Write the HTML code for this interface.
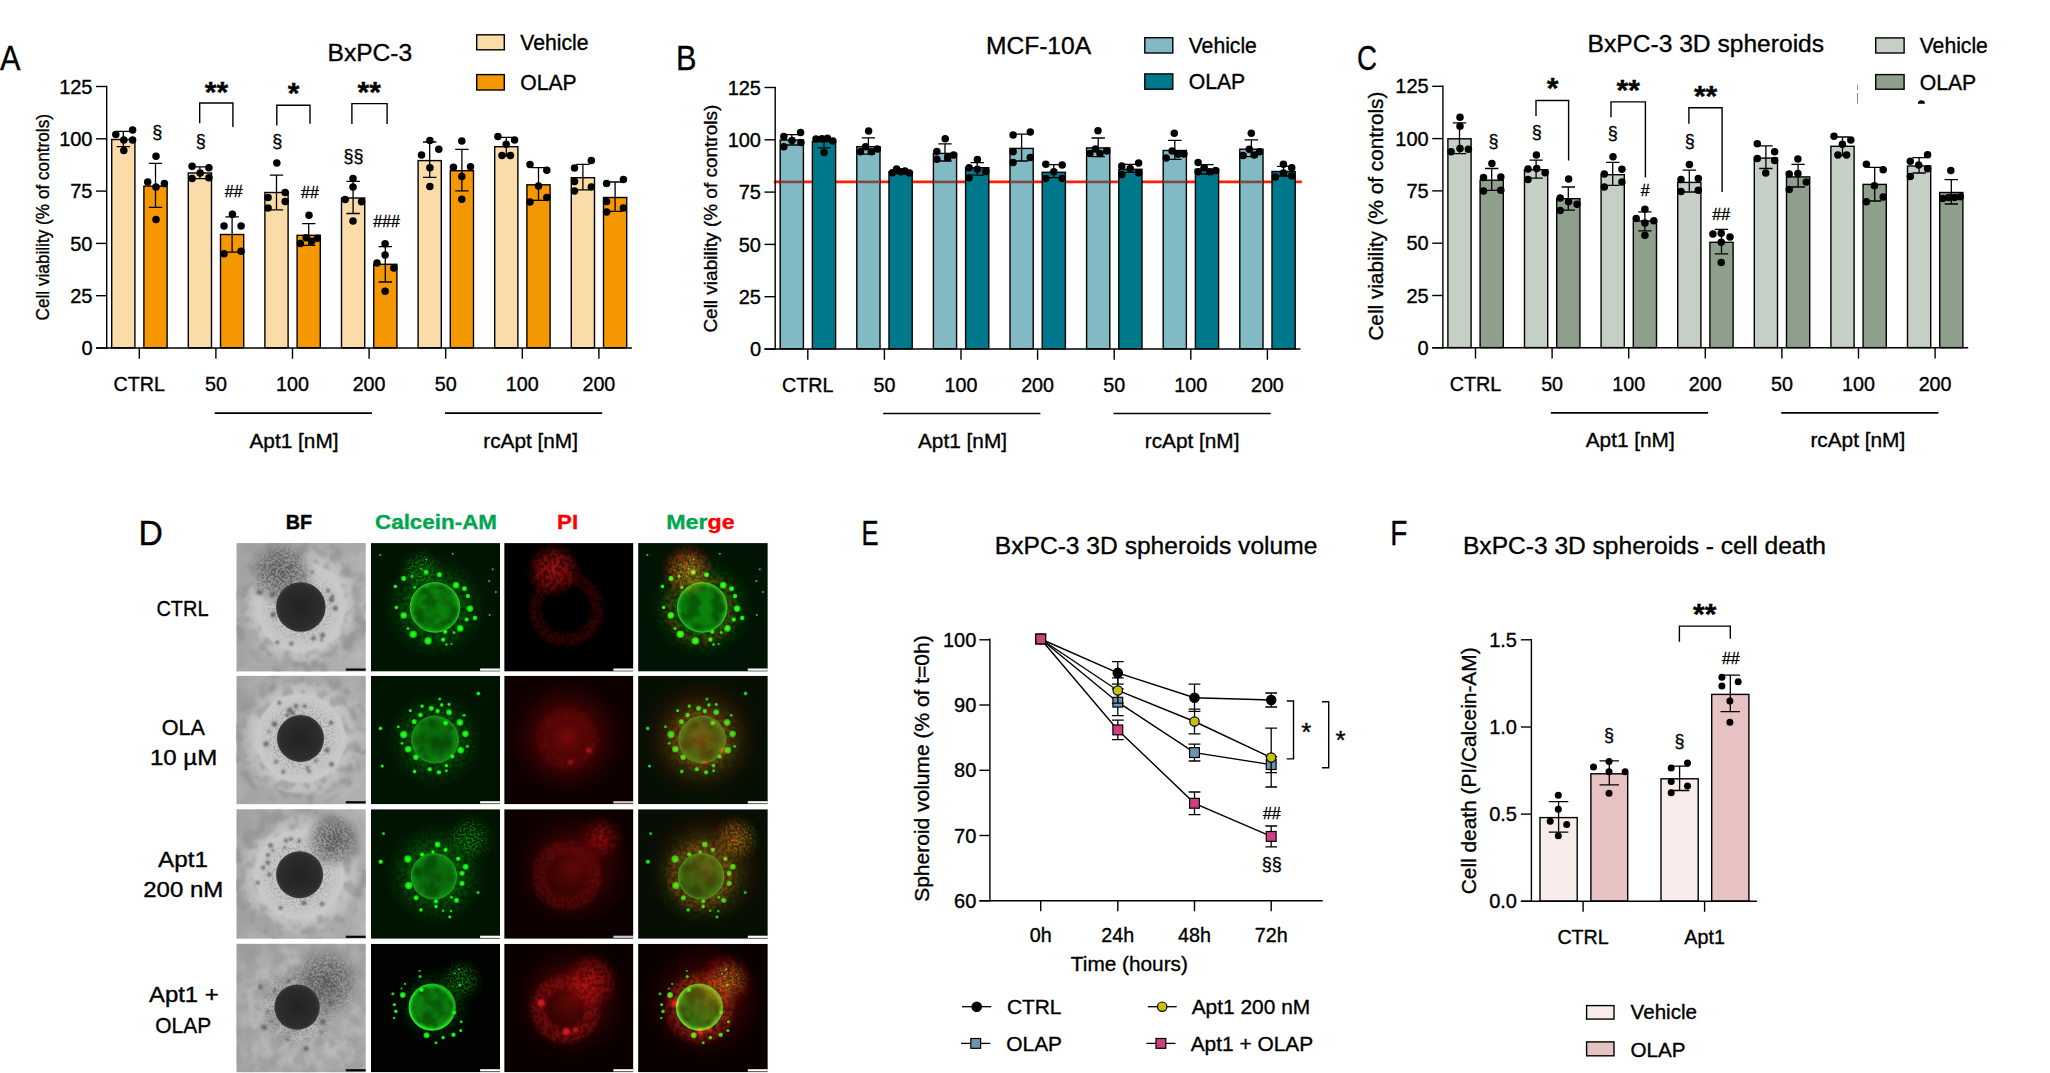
<!DOCTYPE html>
<html><head><meta charset="utf-8"><title>Figure</title><style>html,body{margin:0;padding:0;background:#fff}svg{display:block}</style></head><body>
<svg width="2050" height="1073" viewBox="0 0 2050 1073" font-family="'Liberation Sans', sans-serif" fill="#000"><style>text{stroke:#000;stroke-width:.35px}</style>
<rect width="2050" height="1073" fill="#fff"/>
<defs>
<clipPath id="cp00"><rect x="236.4" y="543.1" width="129.4" height="128.5"/></clipPath>
<clipPath id="cp01"><rect x="236.4" y="675.8" width="129.4" height="128.5"/></clipPath>
<clipPath id="cp02"><rect x="236.4" y="809.2" width="129.4" height="129.6"/></clipPath>
<clipPath id="cp03"><rect x="236.4" y="943.8" width="129.4" height="128.5"/></clipPath>
<clipPath id="cp10"><rect x="370.9" y="543.1" width="129.2" height="128.5"/></clipPath>
<clipPath id="cp11"><rect x="370.9" y="675.8" width="129.2" height="128.5"/></clipPath>
<clipPath id="cp12"><rect x="370.9" y="809.2" width="129.2" height="129.6"/></clipPath>
<clipPath id="cp13"><rect x="370.9" y="943.8" width="129.2" height="128.5"/></clipPath>
<clipPath id="cp20"><rect x="504.2" y="543.1" width="129.2" height="128.5"/></clipPath>
<clipPath id="cp21"><rect x="504.2" y="675.8" width="129.2" height="128.5"/></clipPath>
<clipPath id="cp22"><rect x="504.2" y="809.2" width="129.2" height="129.6"/></clipPath>
<clipPath id="cp23"><rect x="504.2" y="943.8" width="129.2" height="128.5"/></clipPath>
<clipPath id="cp30"><rect x="638.1" y="543.1" width="129.7" height="128.5"/></clipPath>
<clipPath id="cp31"><rect x="638.1" y="675.8" width="129.7" height="128.5"/></clipPath>
<clipPath id="cp32"><rect x="638.1" y="809.2" width="129.7" height="129.6"/></clipPath>
<clipPath id="cp33"><rect x="638.1" y="943.8" width="129.7" height="128.5"/></clipPath>

<filter color-interpolation-filters="sRGB" id="b05" x="-20%" y="-20%" width="140%" height="140%"><feGaussianBlur stdDeviation="0.55"/></filter>
<filter color-interpolation-filters="sRGB" id="b1" x="-20%" y="-20%" width="140%" height="140%"><feGaussianBlur stdDeviation="1"/></filter>
<filter color-interpolation-filters="sRGB" id="b2" x="-30%" y="-30%" width="160%" height="160%"><feGaussianBlur stdDeviation="2"/></filter>
<filter color-interpolation-filters="sRGB" id="b4" x="-40%" y="-40%" width="180%" height="180%"><feGaussianBlur stdDeviation="4"/></filter>
<filter color-interpolation-filters="sRGB" id="spk" x="-15%" y="-15%" width="130%" height="130%"><feTurbulence type="fractalNoise" baseFrequency="0.42" numOctaves="2" seed="4" result="n"/><feColorMatrix in="n" type="matrix" values="0 0 0 0 1 0 0 0 0 1 0 0 0 0 1 0 0 0 5 -2.05" result="m"/><feComposite in="SourceGraphic" in2="m" operator="in"/><feGaussianBlur stdDeviation="0.35"/></filter>
<filter color-interpolation-filters="sRGB" id="spk2" x="-25%" y="-25%" width="150%" height="150%"><feTurbulence type="fractalNoise" baseFrequency="0.25" numOctaves="3" seed="9" result="n"/><feColorMatrix in="n" type="matrix" values="0 0 0 0 1 0 0 0 0 1 0 0 0 0 1 0 0 0 4.5 -1.7" result="m"/><feComposite in="SourceGraphic" in2="m" operator="in"/><feGaussianBlur stdDeviation="0.5"/></filter>
<filter color-interpolation-filters="sRGB" id="patchA" x="-5%" y="-5%" width="110%" height="110%"><feTurbulence type="fractalNoise" baseFrequency="0.055" numOctaves="3" seed="5" result="n"/><feColorMatrix in="n" type="matrix" values="0 0 0 0 1 0 0 0 0 1 0 0 0 0 1 0 0 0 3.2 -1.0" result="m"/><feComposite in="SourceGraphic" in2="m" operator="in"/></filter>
<filter color-interpolation-filters="sRGB" id="patchB" x="-5%" y="-5%" width="110%" height="110%"><feTurbulence type="fractalNoise" baseFrequency="0.08" numOctaves="3" seed="23" result="n"/><feColorMatrix in="n" type="matrix" values="0 0 0 0 1 0 0 0 0 1 0 0 0 0 1 0 0 0 4 -1.6" result="m"/><feComposite in="SourceGraphic" in2="m" operator="in"/><feGaussianBlur stdDeviation="0.8"/></filter>
<radialGradient id="bfBlob"><stop offset="0" stop-color="#6e6e6e" stop-opacity=".75"/><stop offset=".6" stop-color="#7a7a7a" stop-opacity=".5"/><stop offset="1" stop-color="#8a8a8a" stop-opacity="0"/></radialGradient>
<filter color-interpolation-filters="sRGB" id="spkS" x="-15%" y="-15%" width="130%" height="130%"><feTurbulence type="fractalNoise" baseFrequency="0.5" numOctaves="2" seed="7" result="n"/><feColorMatrix in="n" type="matrix" values="0 0 0 0 1 0 0 0 0 1 0 0 0 0 1 0 0 0 6 -2.75" result="m"/><feComposite in="SourceGraphic" in2="m" operator="in"/><feGaussianBlur stdDeviation="0.4"/></filter>
<linearGradient id="rimG" x1="0" y1="1" x2="1" y2="0"><stop offset="0" stop-color="#30f830"/><stop offset=".55" stop-color="#20d820"/><stop offset="1" stop-color="#14a014"/></linearGradient>
<radialGradient id="gGlow"><stop offset="0" stop-color="#0a7c0a" stop-opacity=".78"/><stop offset=".45" stop-color="#086408" stop-opacity=".45"/><stop offset="1" stop-color="#032a03" stop-opacity="0"/></radialGradient>
<radialGradient id="gSphA"><stop offset="0" stop-color="#0c840c"/><stop offset=".8" stop-color="#0b7c0b"/><stop offset="1" stop-color="#1cb41c"/></radialGradient>
<radialGradient id="gSphB"><stop offset="0" stop-color="#0a620a"/><stop offset=".7" stop-color="#0c6e0c"/><stop offset="1" stop-color="#168e16"/></radialGradient>
<radialGradient id="gSphC"><stop offset="0" stop-color="#0b720b"/><stop offset=".8" stop-color="#0d820d"/><stop offset="1" stop-color="#22d422"/></radialGradient>
<radialGradient id="gCloud"><stop offset="0" stop-color="#18e018" stop-opacity="1"/><stop offset=".5" stop-color="#12c812" stop-opacity=".8"/><stop offset="1" stop-color="#0a900a" stop-opacity="0"/></radialGradient>
<radialGradient id="gDot"><stop offset="0" stop-color="#3cff3c"/><stop offset=".55" stop-color="#12f012"/><stop offset="1" stop-color="#06b406"/></radialGradient>
<radialGradient id="rGlow"><stop offset="0" stop-color="#a00c0c" stop-opacity=".85"/><stop offset=".5" stop-color="#800808" stop-opacity=".45"/><stop offset="1" stop-color="#400000" stop-opacity="0"/></radialGradient>
<radialGradient id="rCore"><stop offset="0" stop-color="#d01818" stop-opacity=".95"/><stop offset=".6" stop-color="#b01010" stop-opacity=".6"/><stop offset="1" stop-color="#700000" stop-opacity="0"/></radialGradient>
<filter color-interpolation-filters="sRGB" id="patchC" x="-10%" y="-10%" width="120%" height="120%"><feTurbulence type="fractalNoise" baseFrequency="0.085" numOctaves="3" seed="31" result="n"/><feColorMatrix in="n" type="matrix" values="0 0 0 0 1 0 0 0 0 1 0 0 0 0 1 0 0 0 7 -3.3" result="m"/><feComposite in="SourceGraphic" in2="m" operator="in"/><feGaussianBlur stdDeviation="0.9"/></filter>
<filter color-interpolation-filters="sRGB" id="patchD" x="-10%" y="-10%" width="120%" height="120%"><feTurbulence type="fractalNoise" baseFrequency="0.07" numOctaves="3" seed="57" result="n"/><feColorMatrix in="n" type="matrix" values="0 0 0 0 1 0 0 0 0 1 0 0 0 0 1 0 0 0 7 -3.4" result="m"/><feComposite in="SourceGraphic" in2="m" operator="in"/><feGaussianBlur stdDeviation="0.9"/></filter>
<linearGradient id="bfBase" x1="0" y1="0" x2="1" y2="0.3"><stop offset="0" stop-color="#9f9f9f"/><stop offset="1" stop-color="#b4b4b4"/></linearGradient>
<radialGradient id="bfHalo2"><stop offset="0" stop-color="#c2c2c2"/><stop offset=".66" stop-color="#c9c9c9" stop-opacity="1"/><stop offset=".85" stop-color="#c2c2c2" stop-opacity=".55"/><stop offset="1" stop-color="#b0b0b0" stop-opacity="0"/></radialGradient>
<radialGradient id="bfHalo"><stop offset="0" stop-color="#c6c6c6" stop-opacity="1"/><stop offset=".6" stop-color="#c2c2c2" stop-opacity=".85"/><stop offset="1" stop-color="#b0b0b0" stop-opacity="0"/></radialGradient>
<radialGradient id="bfSph"><stop offset="0" stop-color="#222"/><stop offset=".85" stop-color="#2c2c2c"/><stop offset="1" stop-color="#3a3a3a"/></radialGradient>
<radialGradient id="bfDeb"><stop offset="0" stop-color="#4a4a4a" stop-opacity=".85"/><stop offset=".55" stop-color="#5a5a5a" stop-opacity=".6"/><stop offset="1" stop-color="#777" stop-opacity="0"/></radialGradient>
<radialGradient id="bfVig"><stop offset=".55" stop-color="#8c8c8c" stop-opacity="0"/><stop offset="1" stop-color="#8c8c8c" stop-opacity=".55"/></radialGradient>

<filter color-interpolation-filters="sRGB" id="bfT0" x="0" y="0" width="100%" height="100%"><feTurbulence type="fractalNoise" baseFrequency="0.045" numOctaves="4" seed="11" result="n"/><feColorMatrix in="n" type="matrix" values="0.3 0 0 0 0.5 0.3 0 0 0 0.5 0.3 0 0 0 0.5 0 0 0 0 1"/></filter>
<filter color-interpolation-filters="sRGB" id="bfT1" x="0" y="0" width="100%" height="100%"><feTurbulence type="fractalNoise" baseFrequency="0.045" numOctaves="4" seed="18" result="n"/><feColorMatrix in="n" type="matrix" values="0.3 0 0 0 0.5 0.3 0 0 0 0.5 0.3 0 0 0 0.5 0 0 0 0 1"/></filter>
<filter color-interpolation-filters="sRGB" id="bfT2" x="0" y="0" width="100%" height="100%"><feTurbulence type="fractalNoise" baseFrequency="0.045" numOctaves="4" seed="25" result="n"/><feColorMatrix in="n" type="matrix" values="0.3 0 0 0 0.5 0.3 0 0 0 0.5 0.3 0 0 0 0.5 0 0 0 0 1"/></filter>
<filter color-interpolation-filters="sRGB" id="bfT3" x="0" y="0" width="100%" height="100%"><feTurbulence type="fractalNoise" baseFrequency="0.045" numOctaves="4" seed="32" result="n"/><feColorMatrix in="n" type="matrix" values="0.3 0 0 0 0.5 0.3 0 0 0 0.5 0.3 0 0 0 0.5 0 0 0 0 1"/></filter>
</defs>
<rect x="111.70" y="139.50" width="23.20" height="208.30" fill="#fbdba7" stroke="#000" stroke-width="1.4"/>
<rect x="143.90" y="186.10" width="23.20" height="161.70" fill="#f59700" stroke="#000" stroke-width="1.4"/>
<rect x="188.30" y="173.00" width="23.20" height="174.80" fill="#fbdba7" stroke="#000" stroke-width="1.4"/>
<rect x="220.50" y="234.50" width="23.20" height="113.30" fill="#f59700" stroke="#000" stroke-width="1.4"/>
<rect x="264.90" y="192.50" width="23.20" height="155.30" fill="#fbdba7" stroke="#000" stroke-width="1.4"/>
<rect x="297.10" y="235.30" width="23.20" height="112.50" fill="#f59700" stroke="#000" stroke-width="1.4"/>
<rect x="341.50" y="198.00" width="23.20" height="149.80" fill="#fbdba7" stroke="#000" stroke-width="1.4"/>
<rect x="373.70" y="264.30" width="23.20" height="83.50" fill="#f59700" stroke="#000" stroke-width="1.4"/>
<rect x="418.10" y="160.60" width="23.20" height="187.20" fill="#fbdba7" stroke="#000" stroke-width="1.4"/>
<rect x="450.30" y="170.70" width="23.20" height="177.10" fill="#f59700" stroke="#000" stroke-width="1.4"/>
<rect x="494.70" y="146.70" width="23.20" height="201.10" fill="#fbdba7" stroke="#000" stroke-width="1.4"/>
<rect x="526.90" y="184.80" width="23.20" height="163.00" fill="#f59700" stroke="#000" stroke-width="1.4"/>
<rect x="571.30" y="177.70" width="23.20" height="170.10" fill="#fbdba7" stroke="#000" stroke-width="1.4"/>
<rect x="603.50" y="197.50" width="23.20" height="150.30" fill="#f59700" stroke="#000" stroke-width="1.4"/>
<path d="M116.6 131.4H130.0M116.6 146.7H130.0M123.3 131.4V146.7" stroke="#000" stroke-width="1.3" fill="none"/>
<path d="M148.8 163.3H162.2M148.8 207.4H162.2M155.5 163.3V207.4" stroke="#000" stroke-width="1.3" fill="none"/>
<path d="M193.2 166.8H206.6M193.2 178.6H206.6M199.9 166.8V178.6" stroke="#000" stroke-width="1.3" fill="none"/>
<path d="M225.4 216.8H238.8M225.4 252.1H238.8M232.1 216.8V252.1" stroke="#000" stroke-width="1.3" fill="none"/>
<path d="M269.8 175.2H283.2M269.8 209.8H283.2M276.5 175.2V209.8" stroke="#000" stroke-width="1.3" fill="none"/>
<path d="M302.0 223.6H315.4M302.0 245.4H315.4M308.7 223.6V245.4" stroke="#000" stroke-width="1.3" fill="none"/>
<path d="M346.4 181.4H359.8M346.4 213.5H359.8M353.1 181.4V213.5" stroke="#000" stroke-width="1.3" fill="none"/>
<path d="M378.6 246.7H392.0M378.6 282.0H392.0M385.3 246.7V282.0" stroke="#000" stroke-width="1.3" fill="none"/>
<path d="M423.0 142.0H436.4M423.0 177.4H436.4M429.7 142.0V177.4" stroke="#000" stroke-width="1.3" fill="none"/>
<path d="M455.2 149.4H468.6M455.2 190.8H468.6M461.9 149.4V190.8" stroke="#000" stroke-width="1.3" fill="none"/>
<path d="M499.6 137.4H513.0M499.6 156.0H513.0M506.3 137.4V156.0" stroke="#000" stroke-width="1.3" fill="none"/>
<path d="M531.8 167.7H545.2M531.8 200.4H545.2M538.5 167.7V200.4" stroke="#000" stroke-width="1.3" fill="none"/>
<path d="M576.2 164.3H589.6M576.2 189.8H589.6M582.9 164.3V189.8" stroke="#000" stroke-width="1.3" fill="none"/>
<path d="M608.4 182.0H621.8M608.4 211.3H621.8M615.1 182.0V211.3" stroke="#000" stroke-width="1.3" fill="none"/>
<circle cx="115.8" cy="134.6" r="3.75" fill="#000"/>
<circle cx="132.6" cy="129.9" r="3.75" fill="#000"/>
<circle cx="123.8" cy="140.0" r="3.75" fill="#000"/>
<circle cx="132.6" cy="140.0" r="3.75" fill="#000"/>
<circle cx="123.8" cy="150.5" r="3.75" fill="#000"/>
<circle cx="156.0" cy="156.2" r="3.75" fill="#000"/>
<circle cx="147.7" cy="181.9" r="3.75" fill="#000"/>
<circle cx="164.4" cy="183.6" r="3.75" fill="#000"/>
<circle cx="156.0" cy="187.0" r="3.75" fill="#000"/>
<circle cx="156.0" cy="219.4" r="3.75" fill="#000"/>
<circle cx="192.1" cy="166.3" r="3.75" fill="#000"/>
<circle cx="208.9" cy="167.7" r="3.75" fill="#000"/>
<circle cx="200.2" cy="173.0" r="3.75" fill="#000"/>
<circle cx="192.1" cy="178.6" r="3.75" fill="#000"/>
<circle cx="208.9" cy="177.7" r="3.75" fill="#000"/>
<circle cx="232.4" cy="214.3" r="3.75" fill="#000"/>
<circle cx="224.0" cy="226.1" r="3.75" fill="#000"/>
<circle cx="241.1" cy="226.1" r="3.75" fill="#000"/>
<circle cx="224.0" cy="253.8" r="3.75" fill="#000"/>
<circle cx="241.1" cy="251.2" r="3.75" fill="#000"/>
<circle cx="276.8" cy="163.0" r="3.75" fill="#000"/>
<circle cx="285.2" cy="192.5" r="3.75" fill="#000"/>
<circle cx="268.1" cy="197.6" r="3.75" fill="#000"/>
<circle cx="285.2" cy="201.4" r="3.75" fill="#000"/>
<circle cx="268.1" cy="208.1" r="3.75" fill="#000"/>
<circle cx="309.0" cy="215.2" r="3.75" fill="#000"/>
<circle cx="306.2" cy="237.8" r="3.75" fill="#000"/>
<circle cx="317.4" cy="238.2" r="3.75" fill="#000"/>
<circle cx="300.3" cy="243.4" r="3.75" fill="#000"/>
<circle cx="311.7" cy="241.2" r="3.75" fill="#000"/>
<circle cx="353.0" cy="178.6" r="3.75" fill="#000"/>
<circle cx="353.0" cy="187.0" r="3.75" fill="#000"/>
<circle cx="345.2" cy="199.6" r="3.75" fill="#000"/>
<circle cx="361.6" cy="201.7" r="3.75" fill="#000"/>
<circle cx="353.0" cy="221.0" r="3.75" fill="#000"/>
<circle cx="385.1" cy="243.7" r="3.75" fill="#000"/>
<circle cx="385.1" cy="254.9" r="3.75" fill="#000"/>
<circle cx="377.0" cy="263.0" r="3.75" fill="#000"/>
<circle cx="393.8" cy="268.0" r="3.75" fill="#000"/>
<circle cx="385.1" cy="291.2" r="3.75" fill="#000"/>
<circle cx="429.9" cy="140.5" r="3.75" fill="#000"/>
<circle cx="438.8" cy="149.2" r="3.75" fill="#000"/>
<circle cx="421.5" cy="155.1" r="3.75" fill="#000"/>
<circle cx="429.9" cy="167.7" r="3.75" fill="#000"/>
<circle cx="429.9" cy="186.4" r="3.75" fill="#000"/>
<circle cx="461.8" cy="141.1" r="3.75" fill="#000"/>
<circle cx="453.4" cy="167.3" r="3.75" fill="#000"/>
<circle cx="470.5" cy="166.8" r="3.75" fill="#000"/>
<circle cx="461.8" cy="176.4" r="3.75" fill="#000"/>
<circle cx="461.8" cy="199.2" r="3.75" fill="#000"/>
<circle cx="497.9" cy="136.6" r="3.75" fill="#000"/>
<circle cx="514.6" cy="140.0" r="3.75" fill="#000"/>
<circle cx="506.2" cy="144.2" r="3.75" fill="#000"/>
<circle cx="502.0" cy="155.6" r="3.75" fill="#000"/>
<circle cx="510.4" cy="155.6" r="3.75" fill="#000"/>
<circle cx="530.0" cy="164.6" r="3.75" fill="#000"/>
<circle cx="546.8" cy="170.2" r="3.75" fill="#000"/>
<circle cx="538.5" cy="186.1" r="3.75" fill="#000"/>
<circle cx="546.8" cy="197.6" r="3.75" fill="#000"/>
<circle cx="530.0" cy="202.1" r="3.75" fill="#000"/>
<circle cx="591.3" cy="160.4" r="3.75" fill="#000"/>
<circle cx="574.5" cy="168.0" r="3.75" fill="#000"/>
<circle cx="574.5" cy="181.4" r="3.75" fill="#000"/>
<circle cx="591.3" cy="187.0" r="3.75" fill="#000"/>
<circle cx="574.5" cy="191.1" r="3.75" fill="#000"/>
<circle cx="623.4" cy="179.4" r="3.75" fill="#000"/>
<circle cx="606.6" cy="183.6" r="3.75" fill="#000"/>
<circle cx="606.6" cy="201.4" r="3.75" fill="#000"/>
<circle cx="623.4" cy="208.1" r="3.75" fill="#000"/>
<circle cx="606.6" cy="212.1" r="3.75" fill="#000"/>
<line x1="106.7" y1="85.8" x2="106.7" y2="348.7" stroke="#000" stroke-width="1.4"/>
<line x1="96.0" y1="348.0" x2="632.0" y2="348.0" stroke="#000" stroke-width="1.4"/>
<line x1="96.0" y1="348.0" x2="106.7" y2="348.0" stroke="#000" stroke-width="1.4"/>
<text x="92.5" y="355.1" font-size="20" text-anchor="end">0</text>
<line x1="96.0" y1="295.7" x2="106.7" y2="295.7" stroke="#000" stroke-width="1.4"/>
<text x="92.5" y="302.8" font-size="20" text-anchor="end">25</text>
<line x1="96.0" y1="243.4" x2="106.7" y2="243.4" stroke="#000" stroke-width="1.4"/>
<text x="92.5" y="250.5" font-size="20" text-anchor="end">50</text>
<line x1="96.0" y1="191.1" x2="106.7" y2="191.1" stroke="#000" stroke-width="1.4"/>
<text x="92.5" y="198.2" font-size="20" text-anchor="end">75</text>
<line x1="96.0" y1="138.8" x2="106.7" y2="138.8" stroke="#000" stroke-width="1.4"/>
<text x="92.5" y="145.9" font-size="20" text-anchor="end">100</text>
<line x1="96.0" y1="86.5" x2="106.7" y2="86.5" stroke="#000" stroke-width="1.4"/>
<text x="92.5" y="93.6" font-size="20" text-anchor="end">125</text>
<line x1="139.3" y1="348.0" x2="139.3" y2="358.8" stroke="#000" stroke-width="1.4"/>
<line x1="215.9" y1="348.0" x2="215.9" y2="358.8" stroke="#000" stroke-width="1.4"/>
<line x1="292.5" y1="348.0" x2="292.5" y2="358.8" stroke="#000" stroke-width="1.4"/>
<line x1="369.1" y1="348.0" x2="369.1" y2="358.8" stroke="#000" stroke-width="1.4"/>
<line x1="445.7" y1="348.0" x2="445.7" y2="358.8" stroke="#000" stroke-width="1.4"/>
<line x1="522.3" y1="348.0" x2="522.3" y2="358.8" stroke="#000" stroke-width="1.4"/>
<line x1="598.9" y1="348.0" x2="598.9" y2="358.8" stroke="#000" stroke-width="1.4"/>
<text x="139.3" y="391.4" font-size="19.7" text-anchor="middle">CTRL</text>
<text x="215.9" y="391.4" font-size="19.7" text-anchor="middle">50</text>
<text x="292.5" y="391.4" font-size="19.7" text-anchor="middle">100</text>
<text x="369.1" y="391.4" font-size="19.7" text-anchor="middle">200</text>
<text x="445.7" y="391.4" font-size="19.7" text-anchor="middle">50</text>
<text x="522.3" y="391.4" font-size="19.7" text-anchor="middle">100</text>
<text x="598.9" y="391.4" font-size="19.7" text-anchor="middle">200</text>
<line x1="214.7" y1="413.1" x2="371.9" y2="413.1" stroke="#000" stroke-width="1.6"/>
<line x1="445.0" y1="413.1" x2="602.2" y2="413.1" stroke="#000" stroke-width="1.6"/>
<text x="294.0" y="447.5" font-size="20.8" text-anchor="middle">Apt1 [nM]</text>
<text x="530.6" y="447.5" font-size="20.8" text-anchor="middle">rcApt [nM]</text>
<text x="48.6" y="320.5" font-size="18.7" textLength="206.5" lengthAdjust="spacingAndGlyphs" transform="rotate(-90 48.6 320.5)">Cell viability (% of controls)</text>
<text x="0.0" y="69.7" font-size="34.3" textLength="20.5" lengthAdjust="spacingAndGlyphs">A</text>
<text x="327.5" y="61.1" font-size="24.6">BxPC-3</text>
<rect x="476.70" y="34.80" width="27.60" height="15.00" fill="#fbdba7" stroke="#000" stroke-width="1.4"/>
<rect x="476.70" y="74.60" width="27.60" height="15.40" fill="#f59700" stroke="#000" stroke-width="1.4"/>
<text x="520.3" y="49.6" font-size="21.15">Vehicle</text>
<text x="520.3" y="89.7" font-size="21.15">OLAP</text>
<text x="157.2" y="138.0" font-size="18" text-anchor="middle">§</text>
<text x="200.8" y="147.0" font-size="18" text-anchor="middle">§</text>
<text x="277.2" y="147.0" font-size="18" text-anchor="middle">§</text>
<text x="353.6" y="161.7" font-size="18" text-anchor="middle">§§</text>
<text x="233.7" y="197.2" font-size="16" text-anchor="middle">##</text>
<text x="309.9" y="198.0" font-size="16" text-anchor="middle">##</text>
<text x="386.6" y="227.1" font-size="16" text-anchor="middle">###</text>
<path d="M199.7 123.2V103.0H232.9V126.9" stroke="#000" stroke-width="1.4" fill="none"/>
<text x="216.4" y="101.8" font-size="30" text-anchor="middle" font-weight="bold">**</text>
<path d="M276.8 125.4V105.2H310.0V123.7" stroke="#000" stroke-width="1.4" fill="none"/>
<text x="293.6" y="102.8" font-size="30" text-anchor="middle" font-weight="bold">*</text>
<path d="M351.9 124.0V103.6H387.1V124.0" stroke="#000" stroke-width="1.4" fill="none"/>
<text x="369.2" y="101.8" font-size="30" text-anchor="middle" font-weight="bold">**</text>
<line x1="773.8" y1="181.9" x2="1301.8" y2="181.9" stroke="#ff2000" stroke-width="2.6"/>
<rect x="780.20" y="140.00" width="23.20" height="208.80" fill="#82bac4" stroke="#000" stroke-width="1.4"/>
<rect x="812.40" y="141.60" width="23.20" height="207.20" fill="#00788c" stroke="#000" stroke-width="1.4"/>
<rect x="856.80" y="146.70" width="23.20" height="202.10" fill="#82bac4" stroke="#000" stroke-width="1.4"/>
<rect x="889.00" y="171.80" width="23.20" height="177.00" fill="#00788c" stroke="#000" stroke-width="1.4"/>
<rect x="933.40" y="153.40" width="23.20" height="195.40" fill="#82bac4" stroke="#000" stroke-width="1.4"/>
<rect x="965.60" y="167.70" width="23.20" height="181.10" fill="#00788c" stroke="#000" stroke-width="1.4"/>
<rect x="1010.00" y="148.40" width="23.20" height="200.40" fill="#82bac4" stroke="#000" stroke-width="1.4"/>
<rect x="1042.20" y="172.30" width="23.20" height="176.50" fill="#00788c" stroke="#000" stroke-width="1.4"/>
<rect x="1086.60" y="147.90" width="23.20" height="200.90" fill="#82bac4" stroke="#000" stroke-width="1.4"/>
<rect x="1118.80" y="169.30" width="23.20" height="179.50" fill="#00788c" stroke="#000" stroke-width="1.4"/>
<rect x="1163.20" y="150.50" width="23.20" height="198.30" fill="#82bac4" stroke="#000" stroke-width="1.4"/>
<rect x="1195.40" y="169.30" width="23.20" height="179.50" fill="#00788c" stroke="#000" stroke-width="1.4"/>
<rect x="1239.80" y="149.20" width="23.20" height="199.60" fill="#82bac4" stroke="#000" stroke-width="1.4"/>
<rect x="1272.00" y="171.50" width="23.20" height="177.30" fill="#00788c" stroke="#000" stroke-width="1.4"/>
<path d="M785.1 134.6H798.5M785.1 145.0H798.5M791.8 134.6V145.0" stroke="#000" stroke-width="1.3" fill="none"/>
<path d="M817.3 137.4H830.7M817.3 147.9H830.7M824.0 137.4V147.9" stroke="#000" stroke-width="1.3" fill="none"/>
<path d="M861.7 137.8H875.1M861.7 154.2H875.1M868.4 137.8V154.2" stroke="#000" stroke-width="1.3" fill="none"/>
<path d="M893.9 170.0H907.3M893.9 173.5H907.3M900.6 170.0V173.5" stroke="#000" stroke-width="1.3" fill="none"/>
<path d="M938.3 143.8H951.7M938.3 161.0H951.7M945.0 143.8V161.0" stroke="#000" stroke-width="1.3" fill="none"/>
<path d="M970.5 162.6H983.9M970.5 175.2H983.9M977.2 162.6V175.2" stroke="#000" stroke-width="1.3" fill="none"/>
<path d="M1014.9 134.1H1028.3M1014.9 161.0H1028.3M1021.6 134.1V161.0" stroke="#000" stroke-width="1.3" fill="none"/>
<path d="M1047.1 164.6H1060.5M1047.1 177.7H1060.5M1053.8 164.6V177.7" stroke="#000" stroke-width="1.3" fill="none"/>
<path d="M1091.5 138.0H1104.9M1091.5 156.7H1104.9M1098.2 138.0V156.7" stroke="#000" stroke-width="1.3" fill="none"/>
<path d="M1123.7 164.3H1137.1M1123.7 172.3H1137.1M1130.4 164.3V172.3" stroke="#000" stroke-width="1.3" fill="none"/>
<path d="M1168.1 140.3H1181.5M1168.1 159.3H1181.5M1174.8 140.3V159.3" stroke="#000" stroke-width="1.3" fill="none"/>
<path d="M1200.3 164.6H1213.7M1200.3 174.0H1213.7M1207.0 164.6V174.0" stroke="#000" stroke-width="1.3" fill="none"/>
<path d="M1244.7 139.8H1258.1M1244.7 156.7H1258.1M1251.4 139.8V156.7" stroke="#000" stroke-width="1.3" fill="none"/>
<path d="M1276.9 166.3H1290.3M1276.9 176.0H1290.3M1283.6 166.3V176.0" stroke="#000" stroke-width="1.3" fill="none"/>
<circle cx="783.8" cy="136.6" r="3.75" fill="#000"/>
<circle cx="800.6" cy="132.4" r="3.75" fill="#000"/>
<circle cx="792.0" cy="140.5" r="3.75" fill="#000"/>
<circle cx="800.9" cy="142.5" r="3.75" fill="#000"/>
<circle cx="783.8" cy="146.7" r="3.75" fill="#000"/>
<circle cx="816.0" cy="139.1" r="3.75" fill="#000"/>
<circle cx="821.9" cy="138.8" r="3.75" fill="#000"/>
<circle cx="827.4" cy="138.3" r="3.75" fill="#000"/>
<circle cx="832.8" cy="141.1" r="3.75" fill="#000"/>
<circle cx="824.1" cy="152.6" r="3.75" fill="#000"/>
<circle cx="868.6" cy="131.1" r="3.75" fill="#000"/>
<circle cx="865.5" cy="146.7" r="3.75" fill="#000"/>
<circle cx="877.3" cy="148.9" r="3.75" fill="#000"/>
<circle cx="860.5" cy="151.7" r="3.75" fill="#000"/>
<circle cx="871.4" cy="151.7" r="3.75" fill="#000"/>
<circle cx="892.4" cy="172.7" r="3.75" fill="#000"/>
<circle cx="896.6" cy="169.0" r="3.75" fill="#000"/>
<circle cx="900.8" cy="171.8" r="3.75" fill="#000"/>
<circle cx="905.0" cy="171.0" r="3.75" fill="#000"/>
<circle cx="909.5" cy="173.0" r="3.75" fill="#000"/>
<circle cx="945.2" cy="138.8" r="3.75" fill="#000"/>
<circle cx="936.8" cy="151.4" r="3.75" fill="#000"/>
<circle cx="953.6" cy="155.1" r="3.75" fill="#000"/>
<circle cx="936.8" cy="159.3" r="3.75" fill="#000"/>
<circle cx="947.8" cy="157.6" r="3.75" fill="#000"/>
<circle cx="977.4" cy="159.6" r="3.75" fill="#000"/>
<circle cx="969.1" cy="167.7" r="3.75" fill="#000"/>
<circle cx="977.4" cy="169.3" r="3.75" fill="#000"/>
<circle cx="985.8" cy="171.5" r="3.75" fill="#000"/>
<circle cx="969.1" cy="177.7" r="3.75" fill="#000"/>
<circle cx="1013.1" cy="134.9" r="3.75" fill="#000"/>
<circle cx="1030.3" cy="132.1" r="3.75" fill="#000"/>
<circle cx="1013.1" cy="151.7" r="3.75" fill="#000"/>
<circle cx="1030.3" cy="157.6" r="3.75" fill="#000"/>
<circle cx="1013.1" cy="162.6" r="3.75" fill="#000"/>
<circle cx="1045.8" cy="164.3" r="3.75" fill="#000"/>
<circle cx="1062.2" cy="165.1" r="3.75" fill="#000"/>
<circle cx="1053.8" cy="171.8" r="3.75" fill="#000"/>
<circle cx="1045.8" cy="178.6" r="3.75" fill="#000"/>
<circle cx="1062.2" cy="178.6" r="3.75" fill="#000"/>
<circle cx="1098.0" cy="130.7" r="3.75" fill="#000"/>
<circle cx="1095.4" cy="148.9" r="3.75" fill="#000"/>
<circle cx="1089.9" cy="153.4" r="3.75" fill="#000"/>
<circle cx="1106.7" cy="150.9" r="3.75" fill="#000"/>
<circle cx="1100.0" cy="153.4" r="3.75" fill="#000"/>
<circle cx="1138.6" cy="163.1" r="3.75" fill="#000"/>
<circle cx="1121.8" cy="166.0" r="3.75" fill="#000"/>
<circle cx="1130.2" cy="168.5" r="3.75" fill="#000"/>
<circle cx="1121.8" cy="174.4" r="3.75" fill="#000"/>
<circle cx="1138.6" cy="172.7" r="3.75" fill="#000"/>
<circle cx="1174.3" cy="133.3" r="3.75" fill="#000"/>
<circle cx="1172.1" cy="150.9" r="3.75" fill="#000"/>
<circle cx="1183.9" cy="153.9" r="3.75" fill="#000"/>
<circle cx="1166.2" cy="157.9" r="3.75" fill="#000"/>
<circle cx="1178.0" cy="154.2" r="3.75" fill="#000"/>
<circle cx="1198.1" cy="162.6" r="3.75" fill="#000"/>
<circle cx="1204.0" cy="167.7" r="3.75" fill="#000"/>
<circle cx="1198.1" cy="171.8" r="3.75" fill="#000"/>
<circle cx="1209.9" cy="171.8" r="3.75" fill="#000"/>
<circle cx="1215.7" cy="170.5" r="3.75" fill="#000"/>
<circle cx="1251.3" cy="133.3" r="3.75" fill="#000"/>
<circle cx="1249.3" cy="149.2" r="3.75" fill="#000"/>
<circle cx="1259.4" cy="151.7" r="3.75" fill="#000"/>
<circle cx="1243.1" cy="155.6" r="3.75" fill="#000"/>
<circle cx="1254.3" cy="155.1" r="3.75" fill="#000"/>
<circle cx="1283.4" cy="164.3" r="3.75" fill="#000"/>
<circle cx="1291.7" cy="167.7" r="3.75" fill="#000"/>
<circle cx="1283.4" cy="173.0" r="3.75" fill="#000"/>
<circle cx="1275.3" cy="176.9" r="3.75" fill="#000"/>
<circle cx="1291.7" cy="176.0" r="3.75" fill="#000"/>
<line x1="775.2" y1="86.8" x2="775.2" y2="349.7" stroke="#000" stroke-width="1.4"/>
<line x1="764.5" y1="349.0" x2="1300.5" y2="349.0" stroke="#000" stroke-width="1.4"/>
<line x1="764.5" y1="349.0" x2="775.2" y2="349.0" stroke="#000" stroke-width="1.4"/>
<text x="761.0" y="356.1" font-size="20" text-anchor="end">0</text>
<line x1="764.5" y1="296.7" x2="775.2" y2="296.7" stroke="#000" stroke-width="1.4"/>
<text x="761.0" y="303.8" font-size="20" text-anchor="end">25</text>
<line x1="764.5" y1="244.4" x2="775.2" y2="244.4" stroke="#000" stroke-width="1.4"/>
<text x="761.0" y="251.5" font-size="20" text-anchor="end">50</text>
<line x1="764.5" y1="192.1" x2="775.2" y2="192.1" stroke="#000" stroke-width="1.4"/>
<text x="761.0" y="199.2" font-size="20" text-anchor="end">75</text>
<line x1="764.5" y1="139.8" x2="775.2" y2="139.8" stroke="#000" stroke-width="1.4"/>
<text x="761.0" y="146.9" font-size="20" text-anchor="end">100</text>
<line x1="764.5" y1="87.5" x2="775.2" y2="87.5" stroke="#000" stroke-width="1.4"/>
<text x="761.0" y="94.6" font-size="20" text-anchor="end">125</text>
<line x1="807.8" y1="349.0" x2="807.8" y2="359.8" stroke="#000" stroke-width="1.4"/>
<line x1="884.4" y1="349.0" x2="884.4" y2="359.8" stroke="#000" stroke-width="1.4"/>
<line x1="961.0" y1="349.0" x2="961.0" y2="359.8" stroke="#000" stroke-width="1.4"/>
<line x1="1037.6" y1="349.0" x2="1037.6" y2="359.8" stroke="#000" stroke-width="1.4"/>
<line x1="1114.2" y1="349.0" x2="1114.2" y2="359.8" stroke="#000" stroke-width="1.4"/>
<line x1="1190.8" y1="349.0" x2="1190.8" y2="359.8" stroke="#000" stroke-width="1.4"/>
<line x1="1267.4" y1="349.0" x2="1267.4" y2="359.8" stroke="#000" stroke-width="1.4"/>
<text x="807.8" y="391.8" font-size="19.7" text-anchor="middle">CTRL</text>
<text x="884.4" y="391.8" font-size="19.7" text-anchor="middle">50</text>
<text x="961.0" y="391.8" font-size="19.7" text-anchor="middle">100</text>
<text x="1037.6" y="391.8" font-size="19.7" text-anchor="middle">200</text>
<text x="1114.2" y="391.8" font-size="19.7" text-anchor="middle">50</text>
<text x="1190.8" y="391.8" font-size="19.7" text-anchor="middle">100</text>
<text x="1267.4" y="391.8" font-size="19.7" text-anchor="middle">200</text>
<line x1="883.2" y1="413.5" x2="1040.4" y2="413.5" stroke="#000" stroke-width="1.6"/>
<line x1="1113.5" y1="413.5" x2="1270.7" y2="413.5" stroke="#000" stroke-width="1.6"/>
<text x="962.5" y="447.9" font-size="20.8" text-anchor="middle">Apt1 [nM]</text>
<text x="1192.1" y="447.9" font-size="20.8" text-anchor="middle">rcApt [nM]</text>
<text x="716.7" y="332.6" font-size="19.2" textLength="227.9" lengthAdjust="spacingAndGlyphs" transform="rotate(-90 716.7 332.6)">Cell viability (% of controls)</text>
<text x="676.0" y="69.7" font-size="34.3" textLength="20.5" lengthAdjust="spacingAndGlyphs">B</text>
<text x="985.9" y="54.0" font-size="24.6">MCF-10A</text>
<rect x="1144.80" y="37.70" width="28.00" height="15.30" fill="#82bac4" stroke="#000" stroke-width="1.4"/>
<rect x="1144.80" y="73.90" width="28.00" height="15.30" fill="#00788c" stroke="#000" stroke-width="1.4"/>
<text x="1188.7" y="52.8" font-size="21.15">Vehicle</text>
<text x="1188.7" y="89.4" font-size="21.15">OLAP</text>
<line x1="780.2" y1="181.9" x2="803.4" y2="181.9" stroke="#7b4a42" stroke-width="2.6"/>
<line x1="856.8" y1="181.9" x2="880.0" y2="181.9" stroke="#7b4a42" stroke-width="2.6"/>
<line x1="933.4" y1="181.9" x2="956.6" y2="181.9" stroke="#7b4a42" stroke-width="2.6"/>
<line x1="1010.0" y1="181.9" x2="1033.2" y2="181.9" stroke="#7b4a42" stroke-width="2.6"/>
<line x1="1086.6" y1="181.9" x2="1109.8" y2="181.9" stroke="#7b4a42" stroke-width="2.6"/>
<line x1="1163.2" y1="181.9" x2="1186.4" y2="181.9" stroke="#7b4a42" stroke-width="2.6"/>
<line x1="1239.8" y1="181.9" x2="1263.0" y2="181.9" stroke="#7b4a42" stroke-width="2.6"/>
<rect x="1447.90" y="138.80" width="23.20" height="208.80" fill="#c5cfc5" stroke="#000" stroke-width="1.4"/>
<rect x="1480.10" y="180.20" width="23.20" height="167.40" fill="#8ea08c" stroke="#000" stroke-width="1.4"/>
<rect x="1524.50" y="169.70" width="23.20" height="177.90" fill="#c5cfc5" stroke="#000" stroke-width="1.4"/>
<rect x="1556.70" y="198.70" width="23.20" height="148.90" fill="#8ea08c" stroke="#000" stroke-width="1.4"/>
<rect x="1601.10" y="174.70" width="23.20" height="172.90" fill="#c5cfc5" stroke="#000" stroke-width="1.4"/>
<rect x="1633.30" y="221.00" width="23.20" height="126.60" fill="#8ea08c" stroke="#000" stroke-width="1.4"/>
<rect x="1677.70" y="182.40" width="23.20" height="165.20" fill="#c5cfc5" stroke="#000" stroke-width="1.4"/>
<rect x="1709.90" y="242.30" width="23.20" height="105.30" fill="#8ea08c" stroke="#000" stroke-width="1.4"/>
<rect x="1754.30" y="158.10" width="23.20" height="189.50" fill="#c5cfc5" stroke="#000" stroke-width="1.4"/>
<rect x="1786.50" y="176.90" width="23.20" height="170.70" fill="#8ea08c" stroke="#000" stroke-width="1.4"/>
<rect x="1830.90" y="146.30" width="23.20" height="201.30" fill="#c5cfc5" stroke="#000" stroke-width="1.4"/>
<rect x="1863.10" y="184.40" width="23.20" height="163.20" fill="#8ea08c" stroke="#000" stroke-width="1.4"/>
<rect x="1907.50" y="166.00" width="23.20" height="181.60" fill="#c5cfc5" stroke="#000" stroke-width="1.4"/>
<rect x="1939.70" y="192.50" width="23.20" height="155.10" fill="#8ea08c" stroke="#000" stroke-width="1.4"/>
<path d="M1452.8 122.9H1466.2M1452.8 153.7H1466.2M1459.5 122.9V153.7" stroke="#000" stroke-width="1.3" fill="none"/>
<path d="M1485.0 168.5H1498.4M1485.0 190.3H1498.4M1491.7 168.5V190.3" stroke="#000" stroke-width="1.3" fill="none"/>
<path d="M1529.4 160.1H1542.8M1529.4 178.1H1542.8M1536.1 160.1V178.1" stroke="#000" stroke-width="1.3" fill="none"/>
<path d="M1561.6 187.0H1575.0M1561.6 210.1H1575.0M1568.3 187.0V210.1" stroke="#000" stroke-width="1.3" fill="none"/>
<path d="M1606.0 162.3H1619.4M1606.0 185.3H1619.4M1612.7 162.3V185.3" stroke="#000" stroke-width="1.3" fill="none"/>
<path d="M1638.2 211.8H1651.6M1638.2 230.8H1651.6M1644.9 211.8V230.8" stroke="#000" stroke-width="1.3" fill="none"/>
<path d="M1682.6 170.2H1696.0M1682.6 192.0H1696.0M1689.3 170.2V192.0" stroke="#000" stroke-width="1.3" fill="none"/>
<path d="M1714.8 229.4H1728.2M1714.8 253.8H1728.2M1721.5 229.4V253.8" stroke="#000" stroke-width="1.3" fill="none"/>
<path d="M1759.2 145.8H1772.6M1759.2 168.5H1772.6M1765.9 145.8V168.5" stroke="#000" stroke-width="1.3" fill="none"/>
<path d="M1791.4 164.3H1804.8M1791.4 187.0H1804.8M1798.1 164.3V187.0" stroke="#000" stroke-width="1.3" fill="none"/>
<path d="M1835.8 137.0H1849.2M1835.8 155.6H1849.2M1842.5 137.0V155.6" stroke="#000" stroke-width="1.3" fill="none"/>
<path d="M1868.0 167.3H1881.4M1868.0 201.0H1881.4M1874.7 167.3V201.0" stroke="#000" stroke-width="1.3" fill="none"/>
<path d="M1912.4 157.6H1925.8M1912.4 173.0H1925.8M1919.1 157.6V173.0" stroke="#000" stroke-width="1.3" fill="none"/>
<path d="M1944.6 179.7H1958.0M1944.6 204.0H1958.0M1951.3 179.7V204.0" stroke="#000" stroke-width="1.3" fill="none"/>
<circle cx="1460.0" cy="117.3" r="3.75" fill="#000"/>
<circle cx="1460.0" cy="126.2" r="3.75" fill="#000"/>
<circle cx="1460.0" cy="148.4" r="3.75" fill="#000"/>
<circle cx="1451.1" cy="151.7" r="3.75" fill="#000"/>
<circle cx="1468.4" cy="149.2" r="3.75" fill="#000"/>
<circle cx="1491.9" cy="163.5" r="3.75" fill="#000"/>
<circle cx="1483.5" cy="177.4" r="3.75" fill="#000"/>
<circle cx="1500.8" cy="176.9" r="3.75" fill="#000"/>
<circle cx="1483.5" cy="191.1" r="3.75" fill="#000"/>
<circle cx="1500.8" cy="190.3" r="3.75" fill="#000"/>
<circle cx="1536.4" cy="155.1" r="3.75" fill="#000"/>
<circle cx="1528.0" cy="169.0" r="3.75" fill="#000"/>
<circle cx="1536.7" cy="168.5" r="3.75" fill="#000"/>
<circle cx="1545.1" cy="172.7" r="3.75" fill="#000"/>
<circle cx="1528.0" cy="179.4" r="3.75" fill="#000"/>
<circle cx="1568.6" cy="179.1" r="3.75" fill="#000"/>
<circle cx="1560.2" cy="198.1" r="3.75" fill="#000"/>
<circle cx="1568.6" cy="201.7" r="3.75" fill="#000"/>
<circle cx="1577.0" cy="204.3" r="3.75" fill="#000"/>
<circle cx="1560.2" cy="210.5" r="3.75" fill="#000"/>
<circle cx="1613.0" cy="156.7" r="3.75" fill="#000"/>
<circle cx="1621.9" cy="169.3" r="3.75" fill="#000"/>
<circle cx="1604.3" cy="173.9" r="3.75" fill="#000"/>
<circle cx="1621.9" cy="181.9" r="3.75" fill="#000"/>
<circle cx="1604.3" cy="186.9" r="3.75" fill="#000"/>
<circle cx="1644.9" cy="209.3" r="3.75" fill="#000"/>
<circle cx="1636.2" cy="218.5" r="3.75" fill="#000"/>
<circle cx="1653.8" cy="220.7" r="3.75" fill="#000"/>
<circle cx="1644.9" cy="223.1" r="3.75" fill="#000"/>
<circle cx="1644.9" cy="235.3" r="3.75" fill="#000"/>
<circle cx="1689.4" cy="164.6" r="3.75" fill="#000"/>
<circle cx="1681.0" cy="179.4" r="3.75" fill="#000"/>
<circle cx="1698.3" cy="178.6" r="3.75" fill="#000"/>
<circle cx="1681.0" cy="191.6" r="3.75" fill="#000"/>
<circle cx="1698.3" cy="190.3" r="3.75" fill="#000"/>
<circle cx="1712.9" cy="234.0" r="3.75" fill="#000"/>
<circle cx="1721.2" cy="233.3" r="3.75" fill="#000"/>
<circle cx="1730.0" cy="237.0" r="3.75" fill="#000"/>
<circle cx="1721.2" cy="242.3" r="3.75" fill="#000"/>
<circle cx="1721.2" cy="262.5" r="3.75" fill="#000"/>
<circle cx="1757.3" cy="143.8" r="3.75" fill="#000"/>
<circle cx="1774.6" cy="151.7" r="3.75" fill="#000"/>
<circle cx="1757.3" cy="158.4" r="3.75" fill="#000"/>
<circle cx="1774.6" cy="160.4" r="3.75" fill="#000"/>
<circle cx="1765.7" cy="173.0" r="3.75" fill="#000"/>
<circle cx="1797.9" cy="158.9" r="3.75" fill="#000"/>
<circle cx="1789.2" cy="174.0" r="3.75" fill="#000"/>
<circle cx="1797.9" cy="173.5" r="3.75" fill="#000"/>
<circle cx="1806.3" cy="181.9" r="3.75" fill="#000"/>
<circle cx="1789.2" cy="189.5" r="3.75" fill="#000"/>
<circle cx="1834.0" cy="136.3" r="3.75" fill="#000"/>
<circle cx="1850.8" cy="140.0" r="3.75" fill="#000"/>
<circle cx="1842.4" cy="144.2" r="3.75" fill="#000"/>
<circle cx="1837.9" cy="155.1" r="3.75" fill="#000"/>
<circle cx="1846.6" cy="155.1" r="3.75" fill="#000"/>
<circle cx="1866.4" cy="164.3" r="3.75" fill="#000"/>
<circle cx="1883.2" cy="169.8" r="3.75" fill="#000"/>
<circle cx="1874.4" cy="185.8" r="3.75" fill="#000"/>
<circle cx="1883.2" cy="197.0" r="3.75" fill="#000"/>
<circle cx="1866.4" cy="201.7" r="3.75" fill="#000"/>
<circle cx="1927.6" cy="154.7" r="3.75" fill="#000"/>
<circle cx="1910.3" cy="161.3" r="3.75" fill="#000"/>
<circle cx="1918.7" cy="165.1" r="3.75" fill="#000"/>
<circle cx="1927.6" cy="168.8" r="3.75" fill="#000"/>
<circle cx="1910.3" cy="176.4" r="3.75" fill="#000"/>
<circle cx="1950.8" cy="170.5" r="3.75" fill="#000"/>
<circle cx="1942.7" cy="198.4" r="3.75" fill="#000"/>
<circle cx="1948.6" cy="197.6" r="3.75" fill="#000"/>
<circle cx="1954.5" cy="197.6" r="3.75" fill="#000"/>
<circle cx="1960.3" cy="196.7" r="3.75" fill="#000"/>
<line x1="1442.9" y1="85.6" x2="1442.9" y2="348.5" stroke="#000" stroke-width="1.4"/>
<line x1="1432.2" y1="347.8" x2="1968.2" y2="347.8" stroke="#000" stroke-width="1.4"/>
<line x1="1432.2" y1="347.8" x2="1442.9" y2="347.8" stroke="#000" stroke-width="1.4"/>
<text x="1428.7" y="354.9" font-size="20" text-anchor="end">0</text>
<line x1="1432.2" y1="295.5" x2="1442.9" y2="295.5" stroke="#000" stroke-width="1.4"/>
<text x="1428.7" y="302.6" font-size="20" text-anchor="end">25</text>
<line x1="1432.2" y1="243.2" x2="1442.9" y2="243.2" stroke="#000" stroke-width="1.4"/>
<text x="1428.7" y="250.3" font-size="20" text-anchor="end">50</text>
<line x1="1432.2" y1="190.9" x2="1442.9" y2="190.9" stroke="#000" stroke-width="1.4"/>
<text x="1428.7" y="198.0" font-size="20" text-anchor="end">75</text>
<line x1="1432.2" y1="138.6" x2="1442.9" y2="138.6" stroke="#000" stroke-width="1.4"/>
<text x="1428.7" y="145.7" font-size="20" text-anchor="end">100</text>
<line x1="1432.2" y1="86.3" x2="1442.9" y2="86.3" stroke="#000" stroke-width="1.4"/>
<text x="1428.7" y="93.4" font-size="20" text-anchor="end">125</text>
<line x1="1475.5" y1="347.8" x2="1475.5" y2="358.6" stroke="#000" stroke-width="1.4"/>
<line x1="1552.1" y1="347.8" x2="1552.1" y2="358.6" stroke="#000" stroke-width="1.4"/>
<line x1="1628.7" y1="347.8" x2="1628.7" y2="358.6" stroke="#000" stroke-width="1.4"/>
<line x1="1705.3" y1="347.8" x2="1705.3" y2="358.6" stroke="#000" stroke-width="1.4"/>
<line x1="1781.9" y1="347.8" x2="1781.9" y2="358.6" stroke="#000" stroke-width="1.4"/>
<line x1="1858.5" y1="347.8" x2="1858.5" y2="358.6" stroke="#000" stroke-width="1.4"/>
<line x1="1935.1" y1="347.8" x2="1935.1" y2="358.6" stroke="#000" stroke-width="1.4"/>
<text x="1475.5" y="391.2" font-size="19.7" text-anchor="middle">CTRL</text>
<text x="1552.1" y="391.2" font-size="19.7" text-anchor="middle">50</text>
<text x="1628.7" y="391.2" font-size="19.7" text-anchor="middle">100</text>
<text x="1705.3" y="391.2" font-size="19.7" text-anchor="middle">200</text>
<text x="1781.9" y="391.2" font-size="19.7" text-anchor="middle">50</text>
<text x="1858.5" y="391.2" font-size="19.7" text-anchor="middle">100</text>
<text x="1935.1" y="391.2" font-size="19.7" text-anchor="middle">200</text>
<line x1="1550.9" y1="412.9" x2="1708.1" y2="412.9" stroke="#000" stroke-width="1.6"/>
<line x1="1781.2" y1="412.9" x2="1938.4" y2="412.9" stroke="#000" stroke-width="1.6"/>
<text x="1630.2" y="447.3" font-size="20.8" text-anchor="middle">Apt1 [nM]</text>
<text x="1857.8" y="447.3" font-size="20.8" text-anchor="middle">rcApt [nM]</text>
<text x="1382.7" y="340.6" font-size="20.75" textLength="249.0" lengthAdjust="spacingAndGlyphs" transform="rotate(-90 1382.7 340.6)">Cell viability (% of controls)</text>
<text x="1357.1" y="69.9" font-size="34.3" textLength="20.0" lengthAdjust="spacingAndGlyphs">C</text>
<text x="1587.6" y="51.5" font-size="24.6">BxPC-3 3D spheroids</text>
<rect x="1875.70" y="37.90" width="28.40" height="15.10" fill="#c5cfc5" stroke="#000" stroke-width="1.4"/>
<rect x="1875.70" y="74.60" width="28.40" height="14.60" fill="#8ea08c" stroke="#000" stroke-width="1.4"/>
<text x="1919.7" y="53.0" font-size="21.15">Vehicle</text>
<text x="1919.7" y="89.7" font-size="21.15">OLAP</text>
<text x="1493.6" y="147.0" font-size="18" text-anchor="middle">§</text>
<text x="1536.7" y="137.8" font-size="18" text-anchor="middle">§</text>
<text x="1612.7" y="138.8" font-size="18" text-anchor="middle">§</text>
<text x="1689.7" y="147.0" font-size="18" text-anchor="middle">§</text>
<text x="1645.1" y="196.3" font-size="16" text-anchor="middle">#</text>
<text x="1721.2" y="219.5" font-size="16" text-anchor="middle">##</text>
<path d="M1536.0 116.0V100.5H1568.6V160.6" stroke="#000" stroke-width="1.4" fill="none"/>
<text x="1552.7" y="98.4" font-size="30" text-anchor="middle" font-weight="bold">*</text>
<path d="M1611.0 117.3V101.9H1645.4V177.4" stroke="#000" stroke-width="1.4" fill="none"/>
<text x="1628.2" y="100.1" font-size="30" text-anchor="middle" font-weight="bold">**</text>
<path d="M1688.9 123.7V107.8H1722.1V192.0" stroke="#000" stroke-width="1.4" fill="none"/>
<text x="1705.6" y="105.9" font-size="30" text-anchor="middle" font-weight="bold">**</text>
<line x1="1857.5" y1="84.6" x2="1857.5" y2="90.0" stroke="#999" stroke-width="1"/>
<line x1="1857.5" y1="93.0" x2="1857.5" y2="103.6" stroke="#888" stroke-width="1"/>
<path d="M1917.8 103.8A3.6 3.6 0 0 1 1925 103.8Z" fill="#000"/>
<g clip-path="url(#cp00)">
<rect x="236.4" y="543.1" width="129.4" height="128.5" fill="url(#bfBase)"/>
<rect x="236.4" y="543.1" width="129.4" height="128.5" fill="#aaa" filter="url(#bfT0)" opacity=".35"/>
<circle cx="300.8" cy="607.0" r="66" fill="url(#bfHalo2)"/>
<circle cx="300.8" cy="607.0" r="53" fill="none" stroke="#a2a2a2" stroke-width="16" opacity=".9" filter="url(#patchC)"/>
<circle cx="300.8" cy="607.0" r="62" fill="none" stroke="#969696" stroke-width="14" opacity=".85" filter="url(#patchD)"/>
<circle cx="281" cy="572" r="36.3" fill="url(#bfBlob)"/>
<circle cx="281" cy="572" r="33" fill="url(#bfDeb)" filter="url(#spk)"/>
<circle cx="300" cy="607" r="42" fill="url(#bfDeb)" opacity=".6" filter="url(#spkS)"/>
<g filter="url(#b1)" fill="#5e5e5e" opacity=".85">
<circle cx="322.5" cy="635.2" r="2.5"/>
<circle cx="289.7" cy="568.3" r="2.0"/>
<circle cx="312.2" cy="571.9" r="1.5"/>
<circle cx="273.3" cy="614.8" r="2.7"/>
<circle cx="332.5" cy="596.1" r="1.8"/>
<circle cx="304.3" cy="575.9" r="1.6"/>
<circle cx="313.5" cy="638.2" r="2.3"/>
<circle cx="331.4" cy="599.8" r="2.7"/>
<circle cx="260.3" cy="592.3" r="2.5"/>
<circle cx="321.5" cy="639.8" r="1.6"/>
<circle cx="335.3" cy="608.2" r="2.5"/>
<circle cx="272.4" cy="594.5" r="2.6"/>
<circle cx="328.1" cy="590.6" r="2.0"/>
<circle cx="272.8" cy="574.1" r="1.6"/>
<circle cx="259.1" cy="592.3" r="2.3"/>
<circle cx="292.4" cy="566.9" r="2.1"/>
<circle cx="291.4" cy="643.7" r="2.1"/>
<circle cx="277.4" cy="642.3" r="1.9"/>
</g>
<circle cx="300.8" cy="607.0" r="24.8" fill="url(#bfSph)" filter="url(#b05)"/>
<rect x="345.8" y="668.5" width="20" height="2.2" fill="#000"/>
</g>
<g clip-path="url(#cp01)">
<rect x="236.4" y="675.8" width="129.4" height="128.5" fill="url(#bfBase)"/>
<rect x="236.4" y="675.8" width="129.4" height="128.5" fill="#aaa" filter="url(#bfT1)" opacity=".35"/>
<circle cx="300.5" cy="738.5" r="66" fill="url(#bfHalo2)"/>
<circle cx="300.5" cy="738.5" r="53" fill="none" stroke="#a2a2a2" stroke-width="16" opacity=".9" filter="url(#patchC)"/>
<circle cx="300.5" cy="738.5" r="62" fill="none" stroke="#969696" stroke-width="14" opacity=".85" filter="url(#patchD)"/>
<circle cx="300.5" cy="738" r="42" fill="url(#bfDeb)" opacity=".6" filter="url(#spkS)"/>
<g filter="url(#b1)" fill="#5e5e5e" opacity=".85">
<circle cx="274.5" cy="724.0" r="2.8"/>
<circle cx="331.1" cy="722.7" r="2.3"/>
<circle cx="307.2" cy="768.0" r="1.8"/>
<circle cx="289.8" cy="710.3" r="2.8"/>
<circle cx="327.4" cy="751.2" r="1.5"/>
<circle cx="304.6" cy="706.0" r="2.1"/>
<circle cx="283.3" cy="771.7" r="2.0"/>
<circle cx="309.3" cy="771.2" r="1.8"/>
<circle cx="331.6" cy="764.5" r="2.4"/>
<circle cx="279.3" cy="702.8" r="2.0"/>
<circle cx="276.0" cy="761.7" r="2.0"/>
<circle cx="287.5" cy="715.3" r="2.0"/>
<circle cx="268.9" cy="731.4" r="1.4"/>
<circle cx="293.0" cy="712.9" r="2.2"/>
<circle cx="316.0" cy="760.7" r="1.7"/>
<circle cx="327.1" cy="750.2" r="2.4"/>
<circle cx="296.1" cy="706.1" r="2.3"/>
<circle cx="266.0" cy="743.9" r="2.6"/>
</g>
<circle cx="300.5" cy="738.5" r="23.5" fill="url(#bfSph)" filter="url(#b05)"/>
<rect x="345.8" y="801.2" width="20" height="2.2" fill="#000"/>
</g>
<g clip-path="url(#cp02)">
<rect x="236.4" y="809.2" width="129.4" height="129.6" fill="url(#bfBase)"/>
<rect x="236.4" y="809.2" width="129.4" height="129.6" fill="#aaa" filter="url(#bfT2)" opacity=".35"/>
<circle cx="299.6" cy="874.7" r="66" fill="url(#bfHalo2)"/>
<circle cx="299.6" cy="874.7" r="53" fill="none" stroke="#a2a2a2" stroke-width="16" opacity=".9" filter="url(#patchC)"/>
<circle cx="299.6" cy="874.7" r="62" fill="none" stroke="#969696" stroke-width="14" opacity=".85" filter="url(#patchD)"/>
<circle cx="334" cy="840" r="30.8" fill="url(#bfBlob)"/>
<circle cx="334" cy="840" r="28" fill="url(#bfDeb)" filter="url(#spk)"/>
<circle cx="299.6" cy="875" r="42" fill="url(#bfDeb)" opacity=".6" filter="url(#spkS)"/>
<g filter="url(#b1)" fill="#5e5e5e" opacity=".85">
<circle cx="321.7" cy="904.4" r="1.6"/>
<circle cx="291.0" cy="838.9" r="1.9"/>
<circle cx="272.9" cy="850.4" r="1.5"/>
<circle cx="263.2" cy="867.7" r="2.1"/>
<circle cx="327.9" cy="847.9" r="1.9"/>
<circle cx="303.8" cy="903.1" r="2.5"/>
<circle cx="286.0" cy="840.4" r="2.0"/>
<circle cx="269.3" cy="874.5" r="2.1"/>
<circle cx="322.2" cy="904.0" r="2.3"/>
<circle cx="284.9" cy="847.8" r="1.5"/>
<circle cx="280.6" cy="907.8" r="2.1"/>
<circle cx="299.1" cy="840.9" r="2.0"/>
<circle cx="324.1" cy="858.6" r="1.7"/>
<circle cx="268.0" cy="855.0" r="2.0"/>
<circle cx="267.8" cy="862.6" r="2.3"/>
<circle cx="330.6" cy="848.6" r="2.3"/>
<circle cx="257.7" cy="882.7" r="2.0"/>
<circle cx="270.6" cy="845.4" r="2.4"/>
</g>
<circle cx="299.6" cy="874.7" r="23.5" fill="url(#bfSph)" filter="url(#b05)"/>
<rect x="345.8" y="935.7" width="20" height="2.2" fill="#000"/>
</g>
<g clip-path="url(#cp03)">
<rect x="236.4" y="943.8" width="129.4" height="128.5" fill="url(#bfBase)"/>
<rect x="236.4" y="943.8" width="129.4" height="128.5" fill="#aaa" filter="url(#bfT3)" opacity=".35"/>
<circle cx="297.1" cy="1007.1" r="71" fill="url(#bfHalo2)" opacity=".5"/>
<rect x="236.4" y="943.8" width="129.4" height="128.5" fill="#999" opacity=".6" filter="url(#patchC)"/>
<rect x="236.4" y="943.8" width="129.4" height="128.5" fill="#9c9c9c" opacity=".5" filter="url(#patchD)"/>
<circle cx="326" cy="982" r="39.6" fill="url(#bfBlob)"/>
<circle cx="326" cy="982" r="36" fill="url(#bfDeb)" filter="url(#spk)"/>
<circle cx="297" cy="1007" r="46" fill="url(#bfDeb)" opacity=".6" filter="url(#spkS)"/>
<g filter="url(#b1)" fill="#5e5e5e" opacity=".85">
<circle cx="330.3" cy="1002.7" r="2.4"/>
<circle cx="294.3" cy="977.9" r="1.5"/>
<circle cx="274.9" cy="990.4" r="1.9"/>
<circle cx="328.3" cy="981.2" r="1.6"/>
<circle cx="322.7" cy="1021.7" r="2.6"/>
<circle cx="326.3" cy="1011.7" r="1.6"/>
<circle cx="321.2" cy="1032.0" r="1.7"/>
<circle cx="265.0" cy="1027.7" r="2.4"/>
<circle cx="263.5" cy="1027.0" r="2.2"/>
<circle cx="311.0" cy="980.6" r="1.9"/>
<circle cx="260.5" cy="986.9" r="2.3"/>
<circle cx="267.5" cy="1011.8" r="1.8"/>
<circle cx="306.2" cy="1048.6" r="2.6"/>
<circle cx="324.4" cy="985.8" r="2.4"/>
<circle cx="287.3" cy="1039.6" r="1.6"/>
<circle cx="270.8" cy="1021.5" r="1.5"/>
<circle cx="321.0" cy="993.8" r="2.5"/>
<circle cx="288.6" cy="981.2" r="2.1"/>
</g>
<circle cx="297.1" cy="1007.1" r="22.7" fill="url(#bfSph)" filter="url(#b05)"/>
<rect x="345.8" y="1069.2" width="20" height="2.2" fill="#000"/>
</g>
<g clip-path="url(#cp10)">
<rect x="370.9" y="543.1" width="129.2" height="128.5" fill="#011402"/>
<g opacity="1.0">
<circle cx="435.0" cy="607.0" r="56" fill="url(#gGlow)" opacity="0.85"/>
<circle cx="435.0" cy="607.0" r="51.5" fill="url(#gCloud)" opacity=".28" filter="url(#spk2)"/>
<circle cx="421.0" cy="570.0" r="22" fill="url(#gCloud)" opacity="0.5" filter="url(#spkS)"/>
<circle cx="421.0" cy="570.0" r="25.3" fill="url(#gGlow)" opacity=".3"/>
<circle cx="435.0" cy="607.4" r="24.8" fill="url(#gSphA)" stroke="#24d424" stroke-width="1.0" filter="url(#b05)"/>
<circle cx="435.0" cy="607.4" r="23.3" fill="#033803" opacity=".55" filter="url(#patchB)"/>
<g filter="url(#b05)">
<circle cx="403.7" cy="578.4" r="2.6" fill="url(#gDot)"/>
<circle cx="426.0" cy="572.1" r="2.6" fill="url(#gDot)"/>
<circle cx="439.4" cy="574.7" r="2.6" fill="url(#gDot)"/>
<circle cx="456.0" cy="585.2" r="3.4" fill="url(#gDot)"/>
<circle cx="464.4" cy="588.6" r="2.6" fill="url(#gDot)"/>
<circle cx="467.9" cy="596.1" r="2.3" fill="url(#gDot)"/>
<circle cx="469.9" cy="608.6" r="3.4" fill="url(#gDot)"/>
<circle cx="475.0" cy="618.0" r="2.4" fill="url(#gDot)"/>
<circle cx="466.6" cy="619.5" r="2.3" fill="url(#gDot)"/>
<circle cx="460.2" cy="628.4" r="3.4" fill="url(#gDot)"/>
<circle cx="445.1" cy="631.7" r="2.3" fill="url(#gDot)"/>
<circle cx="443.1" cy="639.6" r="2.3" fill="url(#gDot)"/>
<circle cx="428.0" cy="640.9" r="3.8" fill="url(#gDot)"/>
<circle cx="413.2" cy="634.2" r="3.8" fill="url(#gDot)"/>
<circle cx="403.7" cy="615.4" r="3.4" fill="url(#gDot)"/>
<circle cx="396.4" cy="607.4" r="1.9" fill="url(#gDot)"/>
<circle cx="395.3" cy="586.4" r="1.9" fill="url(#gDot)"/>
<circle cx="407.9" cy="628.4" r="1.5" fill="#10dc10"/>
<circle cx="454.0" cy="632.6" r="1.5" fill="#10dc10"/>
<circle cx="446.4" cy="644.6" r="1.3" fill="#10dc10"/>
<circle cx="451.5" cy="644.0" r="1.1" fill="#10dc10"/>
<circle cx="489.2" cy="581.0" r="1.1" fill="#10dc10"/>
<circle cx="492.6" cy="569.3" r="1.0" fill="#10dc10"/>
<circle cx="380.2" cy="555.0" r="1.0" fill="#10dc10"/>
<circle cx="452.7" cy="553.7" r="1.0" fill="#10dc10"/>
<circle cx="495.9" cy="591.9" r="1.0" fill="#10dc10"/>
<circle cx="489.6" cy="614.9" r="1.0" fill="#10dc10"/>
<circle cx="426.3" cy="559.6" r="1.0" fill="#10dc10"/>
<circle cx="421.3" cy="568.8" r="1.0" fill="#10dc10"/>
<circle cx="412.0" cy="576.3" r="1.5" fill="#10dc10"/>
<circle cx="414.6" cy="587.2" r="1.5" fill="#10dc10"/>
</g>
</g>
<rect x="480.1" y="668.5" width="20" height="2.2" fill="#fff"/>
</g>
<g clip-path="url(#cp20)">
<rect x="504.2" y="543.1" width="129.2" height="128.5" fill="#010000"/>
<g>
<circle cx="553.7" cy="570.0" r="28" fill="url(#rCore)" opacity="0.42"/>
<circle cx="553.7" cy="570.0" r="28" fill="url(#rCore)" opacity="0.7" filter="url(#spk2)"/>
<circle cx="566.3" cy="609.0" r="31" fill="none" stroke="#6a0a0a" stroke-width="12" opacity="0.18" filter="url(#b2)"/>
<g filter="url(#spk2)"><circle cx="566.3" cy="609.0" r="31" fill="none" stroke="#6a0a0a" stroke-width="12" opacity="0.32" filter="url(#b2)"/></g>
</g>
<rect x="613.4" y="668.5" width="20" height="2.2" fill="#fff"/>
</g>
<g clip-path="url(#cp30)">
<rect x="638.1" y="543.1" width="129.7" height="128.5" fill="#011302"/>
<g opacity="1">
<circle cx="702.2" cy="607.0" r="56" fill="url(#gGlow)" opacity="0.85"/>
<circle cx="702.2" cy="607.0" r="51.5" fill="url(#gCloud)" opacity=".28" filter="url(#spk2)"/>
<circle cx="688.2" cy="570.0" r="22" fill="url(#gCloud)" opacity="0.5" filter="url(#spkS)"/>
<circle cx="688.2" cy="570.0" r="25.3" fill="url(#gGlow)" opacity=".3"/>
<circle cx="702.2" cy="607.4" r="24.8" fill="url(#gSphA)" stroke="#24d424" stroke-width="1.0" filter="url(#b05)"/>
<circle cx="702.2" cy="607.4" r="23.3" fill="#033803" opacity=".55" filter="url(#patchB)"/>
<g filter="url(#b05)">
<circle cx="670.9" cy="578.4" r="2.6" fill="url(#gDot)"/>
<circle cx="693.2" cy="572.1" r="2.6" fill="url(#gDot)"/>
<circle cx="706.6" cy="574.7" r="2.6" fill="url(#gDot)"/>
<circle cx="723.2" cy="585.2" r="3.4" fill="url(#gDot)"/>
<circle cx="731.6" cy="588.6" r="2.6" fill="url(#gDot)"/>
<circle cx="735.1" cy="596.1" r="2.3" fill="url(#gDot)"/>
<circle cx="737.1" cy="608.6" r="3.4" fill="url(#gDot)"/>
<circle cx="742.2" cy="618.0" r="2.4" fill="url(#gDot)"/>
<circle cx="733.8" cy="619.5" r="2.3" fill="url(#gDot)"/>
<circle cx="727.4" cy="628.4" r="3.4" fill="url(#gDot)"/>
<circle cx="712.3" cy="631.7" r="2.3" fill="url(#gDot)"/>
<circle cx="710.3" cy="639.6" r="2.3" fill="url(#gDot)"/>
<circle cx="695.2" cy="640.9" r="3.8" fill="url(#gDot)"/>
<circle cx="680.4" cy="634.2" r="3.8" fill="url(#gDot)"/>
<circle cx="670.9" cy="615.4" r="3.4" fill="url(#gDot)"/>
<circle cx="663.6" cy="607.4" r="1.9" fill="url(#gDot)"/>
<circle cx="662.5" cy="586.4" r="1.9" fill="url(#gDot)"/>
<circle cx="675.1" cy="628.4" r="1.5" fill="#10dc10"/>
<circle cx="721.2" cy="632.6" r="1.5" fill="#10dc10"/>
<circle cx="713.6" cy="644.6" r="1.3" fill="#10dc10"/>
<circle cx="718.7" cy="644.0" r="1.1" fill="#10dc10"/>
<circle cx="756.4" cy="581.0" r="1.1" fill="#10dc10"/>
<circle cx="759.8" cy="569.3" r="1.0" fill="#10dc10"/>
<circle cx="647.4" cy="555.0" r="1.0" fill="#10dc10"/>
<circle cx="719.9" cy="553.7" r="1.0" fill="#10dc10"/>
<circle cx="763.1" cy="591.9" r="1.0" fill="#10dc10"/>
<circle cx="756.8" cy="614.9" r="1.0" fill="#10dc10"/>
<circle cx="693.5" cy="559.6" r="1.0" fill="#10dc10"/>
<circle cx="688.5" cy="568.8" r="1.0" fill="#10dc10"/>
<circle cx="679.2" cy="576.3" r="1.5" fill="#10dc10"/>
<circle cx="681.8" cy="587.2" r="1.5" fill="#10dc10"/>
</g>
</g>
<g style="mix-blend-mode:screen">
<circle cx="687.6" cy="570.0" r="28" fill="url(#rCore)" opacity="0.42"/>
<circle cx="687.6" cy="570.0" r="28" fill="url(#rCore)" opacity="0.7" filter="url(#spk2)"/>
<circle cx="700.2" cy="609.0" r="31" fill="none" stroke="#6a0a0a" stroke-width="12" opacity="0.18" filter="url(#b2)"/>
<g filter="url(#spk2)"><circle cx="700.2" cy="609.0" r="31" fill="none" stroke="#6a0a0a" stroke-width="12" opacity="0.32" filter="url(#b2)"/></g>
</g>
<rect x="747.8" y="668.5" width="20" height="2.2" fill="#fff"/>
</g>
<g clip-path="url(#cp11)">
<rect x="370.9" y="675.8" width="129.2" height="128.5" fill="#011402"/>
<g opacity="1.0">
<circle cx="435.0" cy="740.0" r="52" fill="url(#gGlow)" opacity="0.8"/>
<circle cx="435.0" cy="740.0" r="47.8" fill="url(#gCloud)" opacity=".28" filter="url(#spk2)"/>
<circle cx="435.0" cy="739.6" r="23.5" fill="url(#gSphB)" stroke="#18a018" stroke-width="0.8" filter="url(#b05)"/>
<circle cx="435.0" cy="739.6" r="22.0" fill="#033803" opacity=".55" filter="url(#patchB)"/>
<g filter="url(#b05)">
<circle cx="403.7" cy="734.6" r="3.8" fill="url(#gDot)"/>
<circle cx="408.2" cy="749.2" r="3.4" fill="url(#gDot)"/>
<circle cx="415.9" cy="757.2" r="3.0" fill="url(#gDot)"/>
<circle cx="414.2" cy="721.7" r="2.6" fill="url(#gDot)"/>
<circle cx="420.4" cy="715.0" r="2.4" fill="url(#gDot)"/>
<circle cx="431.3" cy="708.3" r="2.6" fill="url(#gDot)"/>
<circle cx="437.6" cy="711.1" r="2.3" fill="url(#gDot)"/>
<circle cx="449.0" cy="712.3" r="3.0" fill="url(#gDot)"/>
<circle cx="441.7" cy="704.9" r="1.9" fill="url(#gDot)"/>
<circle cx="449.0" cy="704.4" r="1.7" fill="url(#gDot)"/>
<circle cx="439.7" cy="698.9" r="1.5" fill="#10dc10"/>
<circle cx="422.1" cy="706.1" r="1.9" fill="url(#gDot)"/>
<circle cx="410.4" cy="710.6" r="1.7" fill="url(#gDot)"/>
<circle cx="459.9" cy="722.5" r="3.4" fill="url(#gDot)"/>
<circle cx="465.4" cy="733.8" r="3.4" fill="url(#gDot)"/>
<circle cx="460.7" cy="750.2" r="3.4" fill="url(#gDot)"/>
<circle cx="452.3" cy="756.4" r="2.3" fill="url(#gDot)"/>
<circle cx="446.4" cy="765.6" r="1.9" fill="url(#gDot)"/>
<circle cx="438.9" cy="772.3" r="2.3" fill="url(#gDot)"/>
<circle cx="429.7" cy="769.3" r="2.3" fill="url(#gDot)"/>
<circle cx="414.6" cy="771.5" r="1.9" fill="url(#gDot)"/>
<circle cx="446.4" cy="770.7" r="1.5" fill="#10dc10"/>
<circle cx="445.6" cy="722.9" r="2.6" fill="url(#gDot)"/>
<circle cx="380.5" cy="728.4" r="1.9" fill="url(#gDot)"/>
<circle cx="382.3" cy="766.1" r="1.7" fill="url(#gDot)"/>
<circle cx="478.3" cy="693.5" r="1.9" fill="url(#gDot)"/>
<circle cx="398.3" cy="726.7" r="1.5" fill="#10dc10"/>
<circle cx="464.1" cy="715.3" r="1.5" fill="#10dc10"/>
<circle cx="402.0" cy="743.3" r="1.5" fill="#10dc10"/>
<circle cx="467.4" cy="746.3" r="1.5" fill="#10dc10"/>
</g>
</g>
<rect x="480.1" y="801.2" width="20" height="2.2" fill="#fff"/>
</g>
<g clip-path="url(#cp21)">
<rect x="504.2" y="675.8" width="129.2" height="128.5" fill="#0e0000"/>
<g>
<circle cx="567.1" cy="737.1" r="62" fill="url(#rGlow)" opacity="0.85"/>
<circle cx="567.1" cy="739.0" r="25" fill="none" stroke="#8a1010" stroke-width="12" opacity="0.11" filter="url(#b2)"/>
<g filter="url(#spk2)"><circle cx="567.1" cy="739.0" r="25" fill="none" stroke="#8a1010" stroke-width="12" opacity="0.2" filter="url(#b2)"/></g>
<circle cx="588.9" cy="750.5" r="3" fill="#a81414" filter="url(#b1)"/>
<circle cx="570.5" cy="762.0" r="2.5" fill="#a01212" filter="url(#b1)"/>
</g>
<rect x="613.4" y="801.2" width="20" height="2.2" fill="#ccc"/>
</g>
<g clip-path="url(#cp31)">
<rect x="638.1" y="675.8" width="129.7" height="128.5" fill="#051003"/>
<g opacity="0.85">
<circle cx="702.2" cy="740.0" r="52" fill="url(#gGlow)" opacity="0.8"/>
<circle cx="702.2" cy="740.0" r="47.8" fill="url(#gCloud)" opacity=".28" filter="url(#spk2)"/>
<circle cx="702.2" cy="739.6" r="23.5" fill="url(#gSphB)" stroke="#18a018" stroke-width="0.8" filter="url(#b05)"/>
<circle cx="702.2" cy="739.6" r="22.0" fill="#033803" opacity=".55" filter="url(#patchB)"/>
<g filter="url(#b05)">
<circle cx="670.9" cy="734.6" r="3.8" fill="url(#gDot)"/>
<circle cx="675.4" cy="749.2" r="3.4" fill="url(#gDot)"/>
<circle cx="683.1" cy="757.2" r="3.0" fill="url(#gDot)"/>
<circle cx="681.4" cy="721.7" r="2.6" fill="url(#gDot)"/>
<circle cx="687.6" cy="715.0" r="2.4" fill="url(#gDot)"/>
<circle cx="698.5" cy="708.3" r="2.6" fill="url(#gDot)"/>
<circle cx="704.8" cy="711.1" r="2.3" fill="url(#gDot)"/>
<circle cx="716.2" cy="712.3" r="3.0" fill="url(#gDot)"/>
<circle cx="708.9" cy="704.9" r="1.9" fill="url(#gDot)"/>
<circle cx="716.2" cy="704.4" r="1.7" fill="url(#gDot)"/>
<circle cx="706.9" cy="698.9" r="1.5" fill="#10dc10"/>
<circle cx="689.3" cy="706.1" r="1.9" fill="url(#gDot)"/>
<circle cx="677.6" cy="710.6" r="1.7" fill="url(#gDot)"/>
<circle cx="727.1" cy="722.5" r="3.4" fill="url(#gDot)"/>
<circle cx="732.6" cy="733.8" r="3.4" fill="url(#gDot)"/>
<circle cx="727.9" cy="750.2" r="3.4" fill="url(#gDot)"/>
<circle cx="719.5" cy="756.4" r="2.3" fill="url(#gDot)"/>
<circle cx="713.6" cy="765.6" r="1.9" fill="url(#gDot)"/>
<circle cx="706.1" cy="772.3" r="2.3" fill="url(#gDot)"/>
<circle cx="696.9" cy="769.3" r="2.3" fill="url(#gDot)"/>
<circle cx="681.8" cy="771.5" r="1.9" fill="url(#gDot)"/>
<circle cx="713.6" cy="770.7" r="1.5" fill="#10dc10"/>
<circle cx="712.8" cy="722.9" r="2.6" fill="url(#gDot)"/>
<circle cx="647.7" cy="728.4" r="1.9" fill="url(#gDot)"/>
<circle cx="649.5" cy="766.1" r="1.7" fill="url(#gDot)"/>
<circle cx="745.5" cy="693.5" r="1.9" fill="url(#gDot)"/>
<circle cx="665.5" cy="726.7" r="1.5" fill="#10dc10"/>
<circle cx="731.3" cy="715.3" r="1.5" fill="#10dc10"/>
<circle cx="669.2" cy="743.3" r="1.5" fill="#10dc10"/>
<circle cx="734.6" cy="746.3" r="1.5" fill="#10dc10"/>
</g>
</g>
<g style="mix-blend-mode:screen">
<circle cx="701.0" cy="737.1" r="62" fill="url(#rGlow)" opacity="0.85"/>
<circle cx="701.0" cy="739.0" r="25" fill="none" stroke="#8a1010" stroke-width="12" opacity="0.11" filter="url(#b2)"/>
<g filter="url(#spk2)"><circle cx="701.0" cy="739.0" r="25" fill="none" stroke="#8a1010" stroke-width="12" opacity="0.2" filter="url(#b2)"/></g>
<circle cx="722.8" cy="750.5" r="3" fill="#a81414" filter="url(#b1)"/>
<circle cx="704.4" cy="762.0" r="2.5" fill="#a01212" filter="url(#b1)"/>
</g>
<rect x="747.8" y="801.2" width="20" height="2.2" fill="#fff"/>
</g>
<g clip-path="url(#cp12)">
<rect x="370.9" y="809.2" width="129.2" height="129.6" fill="#011402"/>
<g opacity="1.0">
<circle cx="436.0" cy="874.0" r="55" fill="url(#gGlow)" opacity="0.85"/>
<circle cx="436.0" cy="874.0" r="50.6" fill="url(#gCloud)" opacity=".28" filter="url(#spk2)"/>
<circle cx="470.0" cy="838.6" r="24" fill="url(#gCloud)" opacity="0.55" filter="url(#spkS)"/>
<circle cx="470.0" cy="838.6" r="27.6" fill="url(#gGlow)" opacity=".3"/>
<circle cx="433.9" cy="876.3" r="22.7" fill="url(#gSphB)" stroke="#1cb01c" stroke-width="0.9" filter="url(#b05)"/>
<circle cx="433.9" cy="876.3" r="21.2" fill="#033803" opacity=".55" filter="url(#patchB)"/>
<g filter="url(#b05)">
<circle cx="407.9" cy="859.1" r="3.8" fill="url(#gDot)"/>
<circle cx="408.7" cy="885.6" r="3.8" fill="url(#gDot)"/>
<circle cx="380.7" cy="861.7" r="2.3" fill="url(#gDot)"/>
<circle cx="437.6" cy="844.5" r="3.0" fill="url(#gDot)"/>
<circle cx="445.6" cy="849.8" r="2.3" fill="url(#gDot)"/>
<circle cx="422.1" cy="854.5" r="2.3" fill="url(#gDot)"/>
<circle cx="465.7" cy="866.8" r="3.0" fill="url(#gDot)"/>
<circle cx="462.0" cy="873.3" r="2.6" fill="url(#gDot)"/>
<circle cx="462.0" cy="883.4" r="2.6" fill="url(#gDot)"/>
<circle cx="456.5" cy="900.3" r="2.6" fill="url(#gDot)"/>
<circle cx="416.2" cy="897.8" r="2.6" fill="url(#gDot)"/>
<circle cx="436.0" cy="901.2" r="2.3" fill="url(#gDot)"/>
<circle cx="436.0" cy="906.5" r="1.9" fill="url(#gDot)"/>
<circle cx="420.9" cy="909.9" r="1.9" fill="url(#gDot)"/>
<circle cx="449.8" cy="916.9" r="1.7" fill="url(#gDot)"/>
<circle cx="478.0" cy="892.6" r="1.5" fill="#10dc10"/>
<circle cx="458.2" cy="858.7" r="2.3" fill="url(#gDot)"/>
<circle cx="433.0" cy="852.0" r="1.9" fill="url(#gDot)"/>
<circle cx="383.5" cy="833.6" r="1.5" fill="#10dc10"/>
<circle cx="451.5" cy="897.3" r="1.5" fill="#10dc10"/>
<circle cx="443.1" cy="910.7" r="1.3" fill="#10dc10"/>
<circle cx="451.1" cy="911.1" r="1.3" fill="#10dc10"/>
</g>
</g>
<rect x="480.1" y="935.7" width="20" height="2.2" fill="#fff"/>
</g>
<g clip-path="url(#cp22)">
<rect x="504.2" y="809.2" width="129.2" height="129.6" fill="#0c0000"/>
<g>
<circle cx="573.0" cy="868.0" r="62" fill="url(#rGlow)" opacity="0.68"/>
<circle cx="567.1" cy="875.5" r="28" fill="none" stroke="#8a1010" stroke-width="14" opacity="0.17" filter="url(#b2)"/>
<g filter="url(#spk2)"><circle cx="567.1" cy="875.5" r="28" fill="none" stroke="#8a1010" stroke-width="14" opacity="0.3" filter="url(#b2)"/></g>
<circle cx="600.7" cy="838.6" r="26" fill="url(#rGlow)" opacity="0.57"/>
<circle cx="600.7" cy="838.6" r="26" fill="url(#rGlow)" opacity="0.95" filter="url(#spk2)"/>
</g>
<rect x="613.4" y="935.7" width="20" height="2.2" fill="#ccc"/>
</g>
<g clip-path="url(#cp32)">
<rect x="638.1" y="809.2" width="129.7" height="129.6" fill="#070e03"/>
<g opacity="0.85">
<circle cx="703.2" cy="874.0" r="55" fill="url(#gGlow)" opacity="0.85"/>
<circle cx="703.2" cy="874.0" r="50.6" fill="url(#gCloud)" opacity=".28" filter="url(#spk2)"/>
<circle cx="737.2" cy="838.6" r="24" fill="url(#gCloud)" opacity="0.55" filter="url(#spkS)"/>
<circle cx="737.2" cy="838.6" r="27.6" fill="url(#gGlow)" opacity=".3"/>
<circle cx="701.1" cy="876.3" r="22.7" fill="url(#gSphB)" stroke="#1cb01c" stroke-width="0.9" filter="url(#b05)"/>
<circle cx="701.1" cy="876.3" r="21.2" fill="#033803" opacity=".55" filter="url(#patchB)"/>
<g filter="url(#b05)">
<circle cx="675.1" cy="859.1" r="3.8" fill="url(#gDot)"/>
<circle cx="675.9" cy="885.6" r="3.8" fill="url(#gDot)"/>
<circle cx="647.9" cy="861.7" r="2.3" fill="url(#gDot)"/>
<circle cx="704.8" cy="844.5" r="3.0" fill="url(#gDot)"/>
<circle cx="712.8" cy="849.8" r="2.3" fill="url(#gDot)"/>
<circle cx="689.3" cy="854.5" r="2.3" fill="url(#gDot)"/>
<circle cx="732.9" cy="866.8" r="3.0" fill="url(#gDot)"/>
<circle cx="729.2" cy="873.3" r="2.6" fill="url(#gDot)"/>
<circle cx="729.2" cy="883.4" r="2.6" fill="url(#gDot)"/>
<circle cx="723.7" cy="900.3" r="2.6" fill="url(#gDot)"/>
<circle cx="683.4" cy="897.8" r="2.6" fill="url(#gDot)"/>
<circle cx="703.2" cy="901.2" r="2.3" fill="url(#gDot)"/>
<circle cx="703.2" cy="906.5" r="1.9" fill="url(#gDot)"/>
<circle cx="688.1" cy="909.9" r="1.9" fill="url(#gDot)"/>
<circle cx="717.0" cy="916.9" r="1.7" fill="url(#gDot)"/>
<circle cx="745.2" cy="892.6" r="1.5" fill="#10dc10"/>
<circle cx="725.4" cy="858.7" r="2.3" fill="url(#gDot)"/>
<circle cx="700.2" cy="852.0" r="1.9" fill="url(#gDot)"/>
<circle cx="650.7" cy="833.6" r="1.5" fill="#10dc10"/>
<circle cx="718.7" cy="897.3" r="1.5" fill="#10dc10"/>
<circle cx="710.3" cy="910.7" r="1.3" fill="#10dc10"/>
<circle cx="718.3" cy="911.1" r="1.3" fill="#10dc10"/>
</g>
</g>
<g style="mix-blend-mode:screen">
<circle cx="706.9" cy="868.0" r="62" fill="url(#rGlow)" opacity="0.68"/>
<circle cx="701.0" cy="875.5" r="28" fill="none" stroke="#8a1010" stroke-width="14" opacity="0.17" filter="url(#b2)"/>
<g filter="url(#spk2)"><circle cx="701.0" cy="875.5" r="28" fill="none" stroke="#8a1010" stroke-width="14" opacity="0.3" filter="url(#b2)"/></g>
<circle cx="734.6" cy="838.6" r="26" fill="url(#rGlow)" opacity="0.57"/>
<circle cx="734.6" cy="838.6" r="26" fill="url(#rGlow)" opacity="0.95" filter="url(#spk2)"/>
</g>
<rect x="747.8" y="935.7" width="20" height="2.2" fill="#fff"/>
</g>
<g clip-path="url(#cp13)">
<rect x="370.9" y="943.8" width="129.2" height="128.5" fill="#000300"/>
<g opacity="1.0">
<circle cx="434.0" cy="1005.0" r="40" fill="url(#gGlow)" opacity="0.55"/>
<circle cx="434.0" cy="1005.0" r="36.8" fill="url(#gCloud)" opacity=".28" filter="url(#spk2)"/>
<circle cx="461.5" cy="980.2" r="22" fill="url(#gCloud)" opacity="0.5" filter="url(#spkS)"/>
<circle cx="461.5" cy="980.2" r="25.3" fill="url(#gGlow)" opacity=".3"/>
<circle cx="432.2" cy="1007.1" r="22.7" fill="url(#gSphC)" stroke="url(#rimG)" stroke-width="1.8" filter="url(#b05)"/>
<circle cx="432.2" cy="1007.1" r="21.2" fill="#033803" opacity=".55" filter="url(#patchB)"/>
<g filter="url(#b05)">
<circle cx="402.8" cy="995.0" r="3.0" fill="url(#gDot)"/>
<circle cx="421.3" cy="989.5" r="2.6" fill="url(#gDot)"/>
<circle cx="392.8" cy="993.7" r="1.5" fill="#10dc10"/>
<circle cx="394.4" cy="1004.6" r="1.7" fill="url(#gDot)"/>
<circle cx="395.8" cy="1011.3" r="1.9" fill="url(#gDot)"/>
<circle cx="394.1" cy="1018.0" r="1.3" fill="#10dc10"/>
<circle cx="426.6" cy="1035.3" r="3.0" fill="url(#gDot)"/>
<circle cx="443.1" cy="1037.6" r="1.9" fill="url(#gDot)"/>
<circle cx="453.5" cy="1034.8" r="2.3" fill="url(#gDot)"/>
<circle cx="460.7" cy="1030.6" r="1.7" fill="url(#gDot)"/>
<circle cx="461.2" cy="1021.7" r="1.5" fill="#10dc10"/>
<circle cx="436.0" cy="1042.8" r="1.5" fill="#10dc10"/>
<circle cx="454.0" cy="1012.5" r="2.3" fill="url(#gDot)"/>
<circle cx="459.9" cy="984.9" r="1.5" fill="#10dc10"/>
<circle cx="420.1" cy="976.4" r="1.5" fill="#10dc10"/>
<circle cx="419.6" cy="971.0" r="1.1" fill="#10dc10"/>
<circle cx="405.0" cy="983.9" r="1.1" fill="#10dc10"/>
<circle cx="401.6" cy="988.6" r="1.0" fill="#10dc10"/>
<circle cx="459.0" cy="969.3" r="1.0" fill="#10dc10"/>
<circle cx="454.8" cy="973.5" r="1.0" fill="#10dc10"/>
</g>
</g>
<rect x="480.1" y="1069.2" width="20" height="2.2" fill="#fff"/>
</g>
<g clip-path="url(#cp23)">
<rect x="504.2" y="943.8" width="129.2" height="128.5" fill="#0a0000"/>
<g>
<circle cx="572.0" cy="1000.0" r="62" fill="url(#rGlow)" opacity="0.68"/>
<circle cx="565.4" cy="1008.8" r="27" fill="none" stroke="#b01515" stroke-width="15" opacity="0.20" filter="url(#b2)"/>
<g filter="url(#spk2)"><circle cx="565.4" cy="1008.8" r="27" fill="none" stroke="#b01515" stroke-width="15" opacity="0.36" filter="url(#b2)"/></g>
<circle cx="591.0" cy="981.0" r="29" fill="url(#rCore)" opacity="0.37"/>
<circle cx="591.0" cy="981.0" r="29" fill="url(#rCore)" opacity="0.62" filter="url(#spk2)"/>
<circle cx="541.1" cy="1002.9" r="3.5" fill="#d81c1c" filter="url(#b1)"/>
<circle cx="566.3" cy="1031.4" r="3.5" fill="#d81c1c" filter="url(#b1)"/>
<circle cx="575.5" cy="1029.7" r="2.5" fill="#c81818" filter="url(#b1)"/>
</g>
<rect x="613.4" y="1069.2" width="20" height="2.2" fill="#fff"/>
</g>
<g clip-path="url(#cp33)">
<rect x="638.1" y="943.8" width="129.7" height="128.5" fill="#0a0000"/>
<g opacity="0.9">
<circle cx="701.2" cy="1005.0" r="40" fill="url(#gGlow)" opacity="0.55"/>
<circle cx="701.2" cy="1005.0" r="36.8" fill="url(#gCloud)" opacity=".28" filter="url(#spk2)"/>
<circle cx="728.7" cy="980.2" r="22" fill="url(#gCloud)" opacity="0.5" filter="url(#spkS)"/>
<circle cx="728.7" cy="980.2" r="25.3" fill="url(#gGlow)" opacity=".3"/>
<circle cx="699.4" cy="1007.1" r="22.7" fill="url(#gSphC)" stroke="url(#rimG)" stroke-width="1.8" filter="url(#b05)"/>
<circle cx="699.4" cy="1007.1" r="21.2" fill="#033803" opacity=".55" filter="url(#patchB)"/>
<g filter="url(#b05)">
<circle cx="670.0" cy="995.0" r="3.0" fill="url(#gDot)"/>
<circle cx="688.5" cy="989.5" r="2.6" fill="url(#gDot)"/>
<circle cx="660.0" cy="993.7" r="1.5" fill="#10dc10"/>
<circle cx="661.6" cy="1004.6" r="1.7" fill="url(#gDot)"/>
<circle cx="663.0" cy="1011.3" r="1.9" fill="url(#gDot)"/>
<circle cx="661.3" cy="1018.0" r="1.3" fill="#10dc10"/>
<circle cx="693.8" cy="1035.3" r="3.0" fill="url(#gDot)"/>
<circle cx="710.3" cy="1037.6" r="1.9" fill="url(#gDot)"/>
<circle cx="720.7" cy="1034.8" r="2.3" fill="url(#gDot)"/>
<circle cx="727.9" cy="1030.6" r="1.7" fill="url(#gDot)"/>
<circle cx="728.4" cy="1021.7" r="1.5" fill="#10dc10"/>
<circle cx="703.2" cy="1042.8" r="1.5" fill="#10dc10"/>
<circle cx="721.2" cy="1012.5" r="2.3" fill="url(#gDot)"/>
<circle cx="727.1" cy="984.9" r="1.5" fill="#10dc10"/>
<circle cx="687.3" cy="976.4" r="1.5" fill="#10dc10"/>
<circle cx="686.8" cy="971.0" r="1.1" fill="#10dc10"/>
<circle cx="672.2" cy="983.9" r="1.1" fill="#10dc10"/>
<circle cx="668.8" cy="988.6" r="1.0" fill="#10dc10"/>
<circle cx="726.2" cy="969.3" r="1.0" fill="#10dc10"/>
<circle cx="722.0" cy="973.5" r="1.0" fill="#10dc10"/>
</g>
</g>
<g style="mix-blend-mode:screen">
<circle cx="705.9" cy="1000.0" r="62" fill="url(#rGlow)" opacity="0.68"/>
<circle cx="699.3" cy="1008.8" r="27" fill="none" stroke="#b01515" stroke-width="15" opacity="0.20" filter="url(#b2)"/>
<g filter="url(#spk2)"><circle cx="699.3" cy="1008.8" r="27" fill="none" stroke="#b01515" stroke-width="15" opacity="0.36" filter="url(#b2)"/></g>
<circle cx="724.9" cy="981.0" r="29" fill="url(#rCore)" opacity="0.37"/>
<circle cx="724.9" cy="981.0" r="29" fill="url(#rCore)" opacity="0.62" filter="url(#spk2)"/>
<circle cx="675.0" cy="1002.9" r="3.5" fill="#d81c1c" filter="url(#b1)"/>
<circle cx="700.2" cy="1031.4" r="3.5" fill="#d81c1c" filter="url(#b1)"/>
<circle cx="709.4" cy="1029.7" r="2.5" fill="#c81818" filter="url(#b1)"/>
</g>
<rect x="747.8" y="1069.2" width="20" height="2.2" fill="#fff"/>
</g>
<text x="138.5" y="544.5" font-size="34.3" textLength="24.4" lengthAdjust="spacingAndGlyphs">D</text>
<text x="285.8" y="529.4" font-size="21.1" font-weight="bold" textLength="26.4" lengthAdjust="spacingAndGlyphs">BF</text>
<text x="375.0" y="529.4" font-size="21.1" font-weight="bold" fill="#00a650" style="stroke:#00a650" textLength="122.0" lengthAdjust="spacingAndGlyphs">Calcein-AM</text>
<text x="557.1" y="529.4" font-size="21.1" font-weight="bold" fill="#ff0000" style="stroke:#ff0000" textLength="21.1" lengthAdjust="spacingAndGlyphs">PI</text>
<text x="666.2" y="529.4" font-size="21.1" font-weight="bold" fill="#00a650" style="stroke:#00a650" textLength="41.4" lengthAdjust="spacingAndGlyphs">Mer</text>
<text x="707.6" y="529.4" font-size="21.1" font-weight="bold" fill="#ff0000" style="stroke:#ff0000" textLength="27.1" lengthAdjust="spacingAndGlyphs">ge</text>
<text x="156.4" y="615.9" font-size="21.4" textLength="52.1" lengthAdjust="spacingAndGlyphs">CTRL</text>
<text x="161.7" y="734.5" font-size="21.4" textLength="43.2" lengthAdjust="spacingAndGlyphs">OLA</text>
<text x="149.9" y="765.3" font-size="21.4" textLength="67.3" lengthAdjust="spacingAndGlyphs">10 µM</text>
<text x="158.0" y="866.6" font-size="21.4" textLength="49.9" lengthAdjust="spacingAndGlyphs">Apt1</text>
<text x="143.2" y="897.3" font-size="21.4" textLength="80.1" lengthAdjust="spacingAndGlyphs">200 nM</text>
<text x="149.0" y="1001.9" font-size="21.4" textLength="69.7" lengthAdjust="spacingAndGlyphs">Apt1 +</text>
<text x="155.3" y="1032.7" font-size="21.4" textLength="55.8" lengthAdjust="spacingAndGlyphs">OLAP</text>
<text x="861.6" y="545.1" font-size="34.3" textLength="17.1" lengthAdjust="spacingAndGlyphs">E</text>
<text x="994.8" y="554.3" font-size="24.6">BxPC-3 3D spheroids volume</text>
<path d="M1040.7 639.0 L1117.8 672.9 L1194.5 697.7 L1271.2 700.0" stroke="#000" stroke-width="1.4" fill="none"/>
<path d="M1040.7 639.0 L1117.8 702.2 L1194.5 752.6 L1271.2 764.6" stroke="#000" stroke-width="1.4" fill="none"/>
<path d="M1040.7 639.0 L1117.8 690.5 L1194.5 721.5 L1271.2 757.6" stroke="#000" stroke-width="1.4" fill="none"/>
<path d="M1040.7 639.0 L1117.8 729.9 L1194.5 803.3 L1271.2 836.4" stroke="#000" stroke-width="1.4" fill="none"/>
<path d="M1111.9 661.7H1123.7M1111.9 684.1H1123.7M1117.8 661.7V684.1" stroke="#000" stroke-width="1.3" fill="none"/>
<path d="M1188.6 684.1H1200.4M1188.6 711.3H1200.4M1194.5 684.1V711.3" stroke="#000" stroke-width="1.3" fill="none"/>
<path d="M1265.3 693.0H1277.1M1265.3 707.0H1277.1M1271.2 693.0V707.0" stroke="#000" stroke-width="1.3" fill="none"/>
<circle cx="1040.7" cy="639.0" r="4.7" fill="#000" stroke="#000" stroke-width="1.2"/>
<circle cx="1117.8" cy="672.9" r="4.7" fill="#000" stroke="#000" stroke-width="1.2"/>
<circle cx="1194.5" cy="697.7" r="4.7" fill="#000" stroke="#000" stroke-width="1.2"/>
<circle cx="1271.2" cy="700.0" r="4.7" fill="#000" stroke="#000" stroke-width="1.2"/>
<path d="M1111.9 688.8H1123.7M1111.9 715.6H1123.7M1117.8 688.8V715.6" stroke="#000" stroke-width="1.3" fill="none"/>
<path d="M1188.6 744.2H1200.4M1188.6 761.0H1200.4M1194.5 744.2V761.0" stroke="#000" stroke-width="1.3" fill="none"/>
<path d="M1265.3 756.6H1277.1M1265.3 772.6H1277.1M1271.2 756.6V772.6" stroke="#000" stroke-width="1.3" fill="none"/>
<rect x="1035.8" y="634.1" width="9.8" height="9.8" fill="#6d94ae" stroke="#000" stroke-width="1.2"/>
<rect x="1112.9" y="697.3" width="9.8" height="9.8" fill="#6d94ae" stroke="#000" stroke-width="1.2"/>
<rect x="1189.6" y="747.7" width="9.8" height="9.8" fill="#6d94ae" stroke="#000" stroke-width="1.2"/>
<rect x="1266.3" y="759.7" width="9.8" height="9.8" fill="#6d94ae" stroke="#000" stroke-width="1.2"/>
<path d="M1111.9 677.9H1123.7M1111.9 703.1H1123.7M1117.8 677.9V703.1" stroke="#000" stroke-width="1.3" fill="none"/>
<path d="M1188.6 709.2H1200.4M1188.6 733.8H1200.4M1194.5 709.2V733.8" stroke="#000" stroke-width="1.3" fill="none"/>
<path d="M1265.3 728.2H1277.1M1265.3 787.0H1277.1M1271.2 728.2V787.0" stroke="#000" stroke-width="1.3" fill="none"/>
<circle cx="1040.7" cy="639.0" r="4.7" fill="#c9c00c" stroke="#000" stroke-width="1.2"/>
<circle cx="1117.8" cy="690.5" r="4.7" fill="#c9c00c" stroke="#000" stroke-width="1.2"/>
<circle cx="1194.5" cy="721.5" r="4.7" fill="#c9c00c" stroke="#000" stroke-width="1.2"/>
<circle cx="1271.2" cy="757.6" r="4.7" fill="#c9c00c" stroke="#000" stroke-width="1.2"/>
<path d="M1111.9 720.1H1123.7M1111.9 739.7H1123.7M1117.8 720.1V739.7" stroke="#000" stroke-width="1.3" fill="none"/>
<path d="M1188.6 792.0H1200.4M1188.6 814.6H1200.4M1194.5 792.0V814.6" stroke="#000" stroke-width="1.3" fill="none"/>
<path d="M1265.3 826.0H1277.1M1265.3 846.8H1277.1M1271.2 826.0V846.8" stroke="#000" stroke-width="1.3" fill="none"/>
<rect x="1035.8" y="634.1" width="9.8" height="9.8" fill="#cc3f80" stroke="#000" stroke-width="1.2"/>
<rect x="1112.9" y="725.0" width="9.8" height="9.8" fill="#cc3f80" stroke="#000" stroke-width="1.2"/>
<rect x="1189.6" y="798.4" width="9.8" height="9.8" fill="#cc3f80" stroke="#000" stroke-width="1.2"/>
<rect x="1266.3" y="831.5" width="9.8" height="9.8" fill="#cc3f80" stroke="#000" stroke-width="1.2"/>
<line x1="989.9" y1="638.4" x2="989.9" y2="901.5" stroke="#000" stroke-width="1.4"/>
<line x1="979.4" y1="900.8" x2="1322.7" y2="900.8" stroke="#000" stroke-width="1.4"/>
<line x1="979.4" y1="900.8" x2="989.9" y2="900.8" stroke="#000" stroke-width="1.4"/>
<text x="976.3" y="907.9" font-size="20" text-anchor="end">60</text>
<line x1="979.4" y1="835.5" x2="989.9" y2="835.5" stroke="#000" stroke-width="1.4"/>
<text x="976.3" y="842.6" font-size="20" text-anchor="end">70</text>
<line x1="979.4" y1="770.3" x2="989.9" y2="770.3" stroke="#000" stroke-width="1.4"/>
<text x="976.3" y="777.4" font-size="20" text-anchor="end">80</text>
<line x1="979.4" y1="705.0" x2="989.9" y2="705.0" stroke="#000" stroke-width="1.4"/>
<text x="976.3" y="712.1" font-size="20" text-anchor="end">90</text>
<line x1="979.4" y1="639.8" x2="989.9" y2="639.8" stroke="#000" stroke-width="1.4"/>
<text x="976.3" y="646.9" font-size="20" text-anchor="end">100</text>
<line x1="1040.7" y1="900.8" x2="1040.7" y2="911.3" stroke="#000" stroke-width="1.4"/>
<text x="1040.7" y="942.3" font-size="19.7" text-anchor="middle">0h</text>
<line x1="1117.8" y1="900.8" x2="1117.8" y2="911.3" stroke="#000" stroke-width="1.4"/>
<text x="1117.8" y="942.3" font-size="19.7" text-anchor="middle">24h</text>
<line x1="1194.5" y1="900.8" x2="1194.5" y2="911.3" stroke="#000" stroke-width="1.4"/>
<text x="1194.5" y="942.3" font-size="19.7" text-anchor="middle">48h</text>
<line x1="1271.2" y1="900.8" x2="1271.2" y2="911.3" stroke="#000" stroke-width="1.4"/>
<text x="1271.2" y="942.3" font-size="19.7" text-anchor="middle">72h</text>
<text x="1129.4" y="970.6" font-size="20.8" text-anchor="middle">Time (hours)</text>
<text x="929.3" y="901.8" font-size="21" textLength="266.5" lengthAdjust="spacingAndGlyphs" transform="rotate(-90 929.3 901.8)">Spheroid volume (% of t=0h)</text>
<path d="M1286.8 701H1293.5V758.9H1286.8" stroke="#000" stroke-width="1.4" fill="none"/>
<path d="M1322 701.7H1328.7V767.7H1322" stroke="#000" stroke-width="1.4" fill="none"/>
<text x="1306.4" y="741.4" font-size="26" text-anchor="middle">*</text>
<text x="1340.5" y="748.5" font-size="26" text-anchor="middle">*</text>
<text x="1271.8" y="819.0" font-size="16" text-anchor="middle">##</text>
<text x="1271.8" y="869.6" font-size="18" text-anchor="middle">§§</text>
<line x1="962.0" y1="1006.7" x2="991.3" y2="1006.7" stroke="#000" stroke-width="1.3"/>
<circle cx="976.7" cy="1006.7" r="4.7" fill="#000" stroke="#000" stroke-width="1.2"/>
<text x="1006.9" y="1014.1" font-size="20.9">CTRL</text>
<line x1="961.1" y1="1043.4" x2="990.3" y2="1043.4" stroke="#000" stroke-width="1.3"/>
<rect x="970.8" y="1038.5" width="9.8" height="9.8" fill="#6d94ae" stroke="#000" stroke-width="1.2"/>
<text x="1006.3" y="1050.6" font-size="20.9">OLAP</text>
<line x1="1147.8" y1="1006.7" x2="1176.7" y2="1006.7" stroke="#000" stroke-width="1.3"/>
<circle cx="1162.2" cy="1006.7" r="4.7" fill="#c9c00c" stroke="#000" stroke-width="1.2"/>
<text x="1191.7" y="1014.1" font-size="20.9">Apt1 200 nM</text>
<line x1="1146.4" y1="1043.4" x2="1175.5" y2="1043.4" stroke="#000" stroke-width="1.3"/>
<rect x="1156.0" y="1038.5" width="9.8" height="9.8" fill="#cc3f80" stroke="#000" stroke-width="1.2"/>
<text x="1190.7" y="1050.6" font-size="20.9">Apt1 + OLAP</text>
<text x="1390.3" y="545.1" font-size="34.3" textLength="17.1" lengthAdjust="spacingAndGlyphs">F</text>
<text x="1463.0" y="553.5" font-size="24.55">BxPC-3 3D spheroids - cell death</text>
<rect x="1540.00" y="817.60" width="37.20" height="83.50" fill="#f8eceb" stroke="#000" stroke-width="1.4"/>
<rect x="1590.90" y="773.80" width="36.80" height="127.30" fill="#e6c3c2" stroke="#000" stroke-width="1.4"/>
<rect x="1661.00" y="778.80" width="37.20" height="122.30" fill="#f8eceb" stroke="#000" stroke-width="1.4"/>
<rect x="1711.70" y="694.40" width="37.20" height="206.70" fill="#e6c3c2" stroke="#000" stroke-width="1.4"/>
<path d="M1548.8 801.6H1568.3M1548.8 832.1H1568.3M1558.6 801.6V832.1" stroke="#000" stroke-width="1.3" fill="none"/>
<path d="M1599.5 760.8H1619.0M1599.5 784.8H1619.0M1609.3 760.8V784.8" stroke="#000" stroke-width="1.3" fill="none"/>
<path d="M1669.8 766.2H1689.3M1669.8 790.5H1689.3M1679.6 766.2V790.5" stroke="#000" stroke-width="1.3" fill="none"/>
<path d="M1720.5 675.2H1740.0M1720.5 711.6H1740.0M1730.3 675.2V711.6" stroke="#000" stroke-width="1.3" fill="none"/>
<circle cx="1558.3" cy="795.2" r="3.5" fill="#000"/>
<circle cx="1558.3" cy="809.2" r="3.5" fill="#000"/>
<circle cx="1550.2" cy="821.2" r="3.5" fill="#000"/>
<circle cx="1566.7" cy="824.6" r="3.5" fill="#000"/>
<circle cx="1558.3" cy="835.8" r="3.5" fill="#000"/>
<circle cx="1609.0" cy="761.5" r="3.5" fill="#000"/>
<circle cx="1593.5" cy="767.0" r="3.5" fill="#000"/>
<circle cx="1609.0" cy="771.7" r="3.5" fill="#000"/>
<circle cx="1625.1" cy="771.7" r="3.5" fill="#000"/>
<circle cx="1609.0" cy="793.2" r="3.5" fill="#000"/>
<circle cx="1687.5" cy="763.0" r="3.5" fill="#000"/>
<circle cx="1671.2" cy="768.0" r="3.5" fill="#000"/>
<circle cx="1671.2" cy="781.5" r="3.5" fill="#000"/>
<circle cx="1687.5" cy="786.0" r="3.5" fill="#000"/>
<circle cx="1671.2" cy="792.7" r="3.5" fill="#000"/>
<circle cx="1721.9" cy="677.2" r="3.5" fill="#000"/>
<circle cx="1738.2" cy="681.8" r="3.5" fill="#000"/>
<circle cx="1721.9" cy="686.0" r="3.5" fill="#000"/>
<circle cx="1729.9" cy="701.1" r="3.5" fill="#000"/>
<circle cx="1729.9" cy="722.2" r="3.5" fill="#000"/>
<line x1="1531.4" y1="639.1" x2="1531.4" y2="902.0" stroke="#000" stroke-width="1.4"/>
<line x1="1520.9" y1="901.3" x2="1757.1" y2="901.3" stroke="#000" stroke-width="1.4"/>
<line x1="1520.9" y1="901.3" x2="1531.4" y2="901.3" stroke="#000" stroke-width="1.4"/>
<text x="1517.0" y="908.4" font-size="20" text-anchor="end">0.0</text>
<line x1="1520.9" y1="814.1" x2="1531.4" y2="814.1" stroke="#000" stroke-width="1.4"/>
<text x="1517.0" y="821.2" font-size="20" text-anchor="end">0.5</text>
<line x1="1520.9" y1="727.0" x2="1531.4" y2="727.0" stroke="#000" stroke-width="1.4"/>
<text x="1517.0" y="734.1" font-size="20" text-anchor="end">1.0</text>
<line x1="1520.9" y1="639.8" x2="1531.4" y2="639.8" stroke="#000" stroke-width="1.4"/>
<text x="1517.0" y="646.9" font-size="20" text-anchor="end">1.5</text>
<line x1="1583.1" y1="901.3" x2="1583.1" y2="911.8" stroke="#000" stroke-width="1.4"/>
<text x="1583.1" y="943.8" font-size="19.7" text-anchor="middle">CTRL</text>
<line x1="1704.6" y1="901.3" x2="1704.6" y2="911.8" stroke="#000" stroke-width="1.4"/>
<text x="1704.6" y="943.8" font-size="19.7" text-anchor="middle">Apt1</text>
<text x="1476.1" y="894.2" font-size="21" textLength="246.8" lengthAdjust="spacingAndGlyphs" transform="rotate(-90 1476.1 894.2)">Cell death (PI/Calcein-AM)</text>
<path d="M1679.4 641.7V626.1H1730.3V638.7" stroke="#000" stroke-width="1.4" fill="none"/>
<text x="1704.8" y="624.3" font-size="30" text-anchor="middle" font-weight="bold">**</text>
<text x="1730.8" y="664.3" font-size="16" text-anchor="middle">##</text>
<text x="1609.1" y="741.0" font-size="18" text-anchor="middle">§</text>
<text x="1679.4" y="747.3" font-size="18" text-anchor="middle">§</text>
<rect x="1586.60" y="1005.60" width="27.40" height="13.50" fill="#f8eceb" stroke="#000" stroke-width="1.4"/>
<rect x="1586.60" y="1041.90" width="27.40" height="13.90" fill="#e6c3c2" stroke="#000" stroke-width="1.4"/>
<text x="1630.6" y="1019.4" font-size="20.6">Vehicle</text>
<text x="1630.6" y="1056.5" font-size="20.6">OLAP</text>
</svg></body></html>
